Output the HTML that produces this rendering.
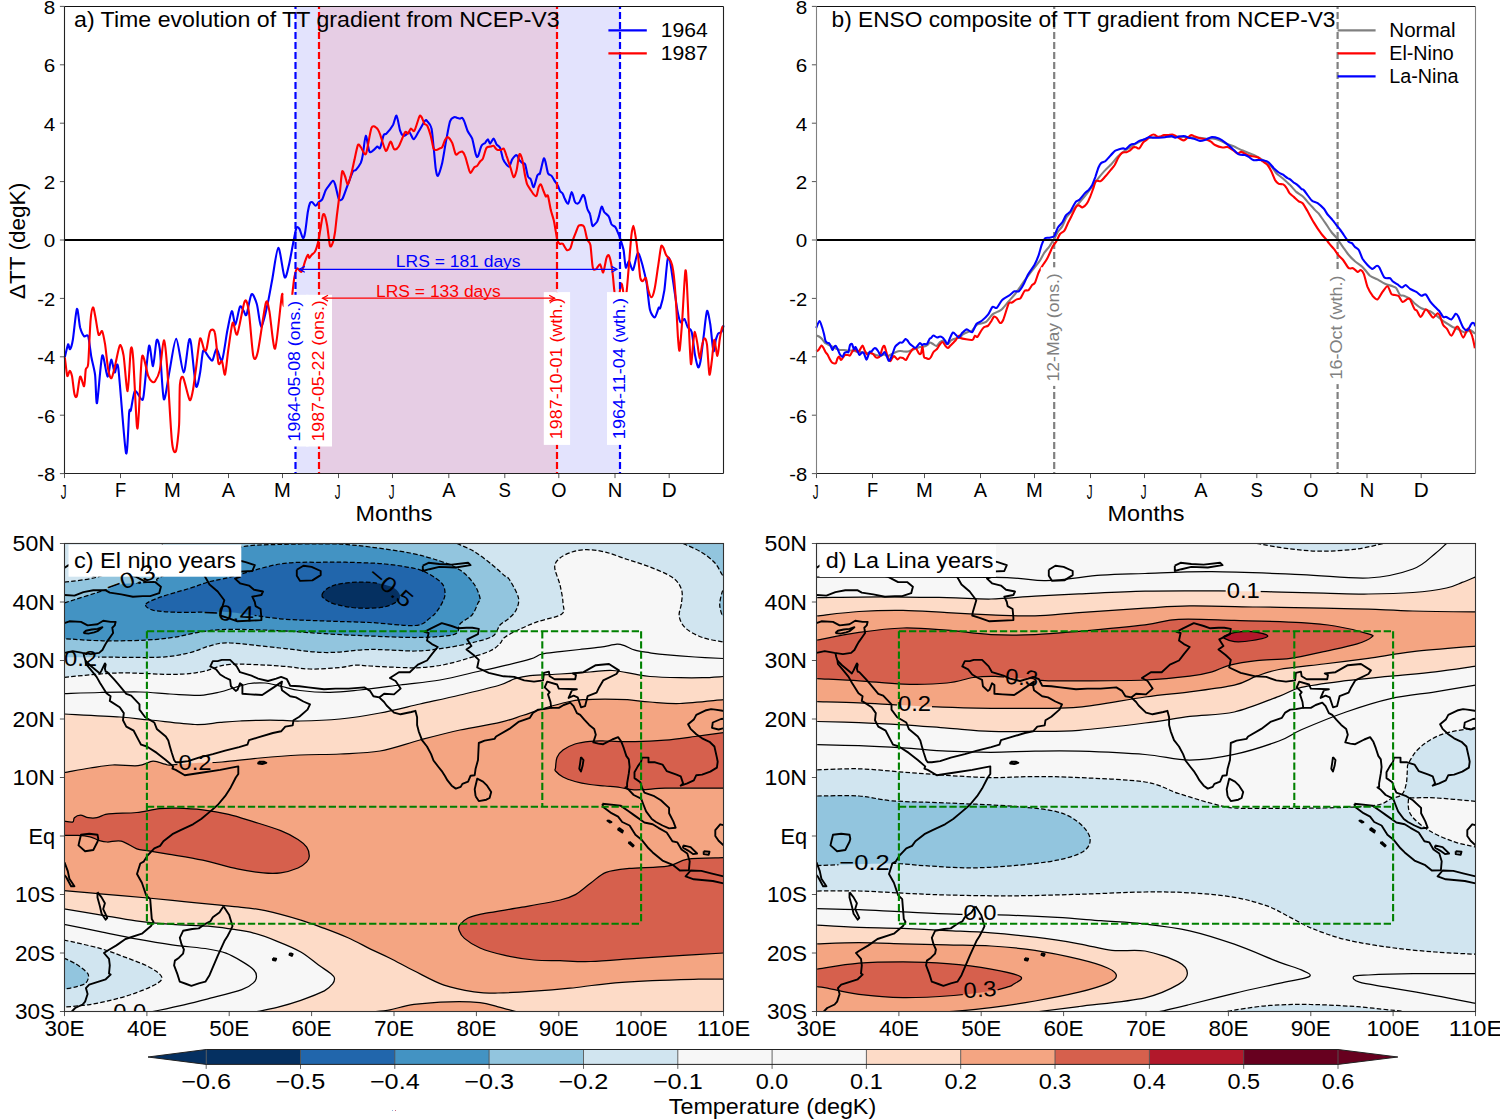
<!DOCTYPE html><html><head><meta charset="utf-8"><style>html,body{margin:0;padding:0;background:#fff;overflow:hidden}svg{display:block}text{font-family:"Liberation Sans",sans-serif}</style></head><body>
<svg width="1500" height="1119" viewBox="0 0 1500 1119">
<rect width="1500" height="1119" fill="#fff"/>
<rect x="295.5" y="6.5" width="324.5" height="467" fill="#e3e3fd"/>
<rect x="319" y="6.5" width="238" height="467" fill="#e6cde4"/>
<path d="M64.8,357.3C65.3,355.5 67.4,345.5 68,344.4C68.7,343.3 69.3,349.8 70,349.2C70.6,348.6 72,344.9 72.9,339.5C73.8,334.2 75.9,310.6 76.9,309C77.9,307.4 79.2,323.8 80.1,327.5C81.1,331.1 83.1,335.2 84.1,336.3C85.2,337.5 87.2,333.5 88.2,336.3C89.1,339.1 90.5,352.1 91.4,357.3C92.3,362.4 94.3,368.8 95.1,375C95.8,381.1 96.1,405.7 97,403.1C98,400.5 100.8,359.2 102.2,355.6C103.6,352.1 106.3,376 107.5,376.6C108.7,377.1 110.2,360.2 111.2,359.7C112.1,359.1 113.8,371.4 114.7,372.5C115.7,373.7 116.8,357.5 118.3,368.2C119.8,378.9 124.5,447.2 126,453C127.4,458.9 128.6,417.7 129.2,412C129.8,406.3 130.1,413.2 130.8,410.4C131.6,407.6 133.4,392.6 134.8,391.1C136.2,389.5 140.1,398.6 141.3,399.1C142.5,399.6 142.7,402.2 143.7,395.1C144.7,388 147.8,349.8 149,346C150.2,342.1 152,366.9 153,366.1C154,365.4 155.7,342.6 156.6,340.4C157.5,338.1 158.8,341.4 159.8,349.2C160.8,357 162.5,396.1 163.8,399.1C165.1,402.1 167.8,379.8 169.4,371.7C171.1,363.7 174.3,338.6 176.2,338.7C178.1,338.9 181.9,372.2 183.6,372.5C185.3,372.9 187.7,344.9 188.8,341.2C189.8,337.4 190.2,338.4 191.2,344.4C192.1,350.4 194.8,382.4 196,386.2C197.2,390.1 199.1,378.1 200,373.3C201,368.6 202.1,353 203.2,350.8C204.4,348.7 207.6,356 208.9,357.3C210.1,358.5 211.5,361.5 212.5,360.3C213.5,359.2 215.4,348.7 216.6,348.7C217.9,348.7 220.6,362.7 222,360.3C223.4,358 226,337.4 227.3,330.8C228.7,324.3 230.7,312 231.8,311.2C232.9,310.3 234.3,325.2 235.4,324.6C236.5,324 238.8,308.6 239.9,306.7C240.9,304.8 242.6,309.2 243.4,310.3C244.3,311.4 245.4,316.9 246.5,314.8C247.6,312.6 250.1,295.6 251.5,294.2C252.9,292.8 255.5,299.6 256.8,304C258.2,308.4 259.9,327.3 261.3,327.3C262.7,327.3 266.1,310.2 267.6,304C269,297.8 270.6,288.3 272,280.8C273.5,273.3 276.6,248.2 278.3,247.7C280,247.2 283.1,274.9 284.6,277.2C286,279.5 287.8,269.5 289,264.7C290.2,259.8 292.6,245.7 293.6,240.8C294.6,236 295.7,229.6 296.4,228C297.2,226.4 298.4,227.4 299.3,228.7C300.2,230 302.1,237.4 302.9,238C303.6,238.6 304.4,236.5 305,233C305.7,229.5 307.2,215.5 307.9,211.5C308.6,207.5 309.5,204.2 310,203C310.6,201.7 311.4,201.9 312.2,202.2C312.9,202.6 314.9,205.8 315.7,205.8C316.6,205.8 317.8,203.1 318.6,202.2C319.5,201.4 321.2,201 322.2,199.4C323.1,197.8 324.8,192 325.8,190.1C326.7,188.2 328.4,186.3 329.3,185.1C330.3,183.8 332.1,180.9 332.9,180.8C333.7,180.7 334.3,182 335.1,184.4C335.8,186.7 337.9,196.6 338.6,198.7C339.4,200.8 340.2,200.2 340.8,200.1C341.3,200 342,200 342.9,198C343.9,195.9 346.6,187.9 347.9,184.4C349.3,180.8 351.9,173.4 352.9,171.5C354,169.6 354.7,171.2 355.8,170.1C356.8,168.9 359.8,165 360.8,162.9C361.7,160.8 362.3,158 362.9,154.3C363.6,150.7 364.9,136.1 365.8,135.7C366.7,135.4 368.3,149.6 369.4,151.5C370.4,153.4 372.6,150.7 373.7,150C374.7,149.4 376.4,146.8 377.2,146.5C378.1,146.2 379.2,149.4 380.1,147.9C381,146.4 382.8,136.9 383.7,135C384.5,133.1 385.3,134.9 386.5,133.6C387.8,132.3 391.6,127.4 393,125C394.3,122.6 395.6,115 396.5,115.7C397.5,116.5 399.3,128.1 400.1,130.7C401,133.4 402.2,135.2 403,135.7C403.7,136.3 405,135.5 405.8,135C406.7,134.6 408.4,131.6 409.4,132.2C410.5,132.7 412.5,139.4 413.7,139.3C414.9,139.2 417.2,133.9 418.7,131.5C420.2,129 424,122.1 425.1,120.7C426.3,119.4 426.4,120.5 427.3,121.4C428.1,122.4 430.6,124.5 431.4,127.9C432.3,131.3 433,141.8 433.6,147.2C434.2,152.6 435.2,164.8 435.7,168.6C436.3,172.4 437,176.5 437.9,175.8C438.7,175 441.1,167.3 442.2,162.9C443.2,158.5 444.7,148.4 445.7,142.9C446.8,137.4 448.9,124.9 450,121.4C451.2,118 453.4,117.6 454.3,117.2C455.3,116.7 456.4,117.7 457.2,117.9C457.9,118.1 459.4,118.6 460,118.6C460.7,118.6 461.6,117.5 462.2,117.9C462.8,118.3 463.6,119.6 464.3,121.4C465.1,123.3 466.8,129.2 467.9,131.5C468.9,133.7 471.1,135.6 472.2,138.6C473.2,141.7 475,152 475.8,154.3C476.5,156.7 477.1,157.6 477.9,156.5C478.7,155.3 480.5,147.6 481.5,145.8C482.4,143.9 484.2,143.8 485.1,142.9C485.9,142 487.2,139.2 487.9,139.3C488.6,139.4 489.3,143.7 490.1,143.6C490.8,143.5 492.8,138.5 493.6,138.6C494.5,138.7 495.6,143.1 496.5,144.3C497.4,145.6 499.2,146 500.1,147.9C500.9,149.8 502.2,156.5 502.9,158.6C503.7,160.7 504.9,162.6 505.8,163.6C506.6,164.7 508.5,167.1 509.4,166.5C510.2,165.9 511.3,160.9 512.2,159.3C513.2,157.8 515.6,155 516.5,155.1C517.5,155.1 518.6,159 519.4,160.1C520.1,161.1 521.5,162.3 522.2,162.9C523,163.5 524.3,162.5 525.1,164.3C525.9,166.2 527.2,174.5 528,176.5C528.7,178.5 530.1,177.9 530.8,179.4C531.6,180.8 532.8,187.7 533.7,187.2C534.5,186.7 536.5,177.6 537.2,175.8C538,174 539,174 539.4,173.6C539.8,173.3 539.4,175.2 540,173.2C540.6,171.3 542.9,160.5 543.6,158.9C544.3,157.4 544.8,159.7 545.4,161.6C546,163.5 547.2,171.3 548,173.2C548.9,175.1 550.8,175 551.6,175.9C552.5,176.9 553.5,179.1 554.3,180.4C555.1,181.7 557.1,184.3 557.9,185.7C558.6,187.2 559.5,190 560.1,191.1C560.8,192.2 562.2,192.8 562.8,193.8C563.4,194.7 563.9,196.9 564.6,198.3C565.3,199.6 567.2,204.5 568.2,203.6C569.1,202.8 570.8,192.2 571.7,192C572.6,191.8 574.1,200.3 574.9,201.8C575.6,203.4 576.9,203.6 577.5,203.6C578.1,203.7 578.6,203.4 579.3,202.3C580,201.1 582.2,195.8 582.9,195.1C583.6,194.5 584.1,195.5 584.7,197.4C585.3,199.2 586.6,206.7 587.4,209C588.1,211.2 589.4,212.1 590,214.3C590.7,216.5 591.7,224.1 592.3,225.5C592.8,226.9 593.4,225.6 594.1,225.1C594.7,224.5 596.5,222.7 597.2,221.5C597.8,220.3 598.4,218.1 599,216.1C599.6,214.2 600.9,207.3 601.7,206.7C602.4,206.2 603.4,210.8 604.3,212.1C605.3,213.4 607.9,215 608.8,216.6C609.8,218.2 610.6,222.7 611.5,224.2C612.4,225.6 614.7,226.2 615.5,227.3C616.3,228.4 617.1,230.6 617.7,232.2C618.4,233.8 619.7,237 620.4,239.4C621.2,241.7 622.8,246.2 623.6,250C624.3,253.8 625,266.1 625.8,267.5C626.5,269 628,260.8 629,261.1C629.9,261.4 631.8,271 633,270C634.2,268.9 636.5,253.6 637.8,253.1C639.1,252.5 641.5,261.9 642.7,265.9C643.8,270 645.7,277.8 646.7,283.6C647.6,289.4 648.8,304.9 649.9,309.4C651,313.9 653.5,317.6 654.7,317.4C655.9,317.2 658,309 658.7,307.8C659.5,306.5 659.6,310.1 660.3,307.8C661.1,305.4 663.4,296.5 664.4,290.1C665.3,283.6 666.8,263.4 667.6,259.5C668.3,255.6 669.2,258.1 670,261.1C670.7,264.1 672.2,275.6 673.2,282C674.2,288.5 676.3,304 677.2,309.4C678.2,314.7 679.5,320.9 680.4,322.2C681.4,323.5 683.5,318.4 684.5,319C685.4,319.7 686.7,325.3 687.7,327.1C688.7,328.8 690.7,328.2 691.7,331.9C692.7,335.5 694.1,349.7 694.9,354.4C695.8,359.1 697.4,366.4 698.1,367.3C698.9,368.1 699.8,365.1 700.6,360.8C701.3,356.5 702.9,341.7 703.8,335.1C704.6,328.5 706.1,312.5 707,311C707.8,309.5 709.3,318.5 710.2,323.8C711.1,329.2 712.7,349 713.4,351.2C714.2,353.3 715.2,342.3 715.8,339.9C716.5,337.6 717.5,334.6 718.2,333.5C719,332.4 720.8,333 721.5,331.9C722.2,330.8 723.3,326.3 723.6,325.4" fill="none" stroke="#0000ff" stroke-width="2.1" stroke-linejoin="round"/>
<path d="M64.8,357.3C65.2,359.7 66.6,373.9 67.2,375.8C67.9,377.6 69,370.8 69.7,370.9C70.3,371 71.4,373.5 72.1,376.6C72.7,379.7 73.8,391.7 74.5,394.3C75.1,396.8 76.1,398.2 76.9,395.9C77.7,393.5 79.2,377.9 80.1,376.6C81.1,375.3 83.4,387.2 84.1,386.2C84.9,385.3 85.2,372.3 85.8,369.3C86.3,366.3 87.5,370.2 88.2,363.7C88.8,357.1 89.9,327.7 90.6,320.2C91.2,312.7 92.3,307.8 93,307.4C93.6,306.9 94.7,313.4 95.4,317C96.2,320.7 97.7,332.8 98.6,334.7C99.5,336.6 101.3,329.9 102.2,331.2C103,332.5 104.2,339.2 105.1,344.4C105.9,349.6 107.4,365.6 108.3,370.1C109.1,374.6 110.5,379 111.5,378.2C112.5,377.3 114.4,368.1 115.5,363.7C116.6,359.3 118.8,346.3 119.9,345.2C120.9,344.1 122.5,349.5 123.6,355.6C124.6,361.8 126.6,391.9 127.6,391.1C128.6,390.2 130.1,353.5 130.8,349.2C131.6,344.9 132.4,348.6 133.2,358.9C134,369.2 136.2,419.4 136.9,426.5C137.7,433.5 138.2,421.3 138.9,412C139.5,402.6 140.8,361.3 142.1,356.4C143.3,351.6 146.9,372.4 148.2,375.8C149.5,379.1 150.8,380.6 151.7,381.4C152.6,382.1 153.9,382.9 155,381.4C156,379.9 158.6,375.6 159.8,370.1C161,364.7 162.8,341 163.8,340.4C164.8,339.7 166,351.9 167,365.3C168.1,378.7 170.7,429.5 171.9,440.9C173,452.4 174.9,453.6 175.9,451.4C176.8,449.3 178.6,433.8 179.1,424.8C179.6,415.9 179.4,390.9 179.9,384.6C180.4,378.3 181.8,375.3 183.1,377.4C184.4,379.4 188.3,398.1 189.6,399.9C190.8,401.7 191.9,395.2 192.8,391.1C193.6,386.9 195,375.5 196,368.5C197,361.5 198.9,341.3 200,338.7C201.1,336.2 203.2,347.8 204,349.2C204.9,350.6 205.7,351.6 206.5,349.2C207.3,346.8 208.9,333.7 210,331.5C211.1,329.3 213.7,328.4 214.8,332.6C216,336.8 217.5,359.2 218.4,363C219.4,366.8 221.1,359.7 222,361.2C222.9,362.8 224.2,376.1 225,374.6C225.9,373.2 227.2,357.4 228.2,350.5C229.3,343.6 231.5,324.9 232.7,322.8C233.9,320.7 235.6,337.3 237.2,334.4C238.8,331.6 243.1,304.4 244.7,301.3C246.2,298.2 247.7,303.9 248.8,311.2C249.9,318.5 252.1,350.4 253.3,355.9C254.5,361.4 256.1,359.3 257.7,352.3C259.4,345.3 264.2,308.6 265.8,303.1C267.3,297.7 268.1,305.1 269.4,311.2C270.6,317.3 273.4,350.9 275.1,348.7C276.8,346.6 280.7,300.8 281.9,295.1C283,289.4 282.5,304.4 283.7,305.8C284.9,307.2 289.6,307.7 290.8,305.8C292,303.9 292.1,295.3 292.6,291.5C293.1,287.7 293.8,280.3 294.4,277.2C295,274.1 296.1,269 297.1,268.3C298,267.6 300.5,272.8 301.5,271.8C302.6,270.9 304.3,263.4 305.1,261.1C306,258.9 307.2,255.3 307.8,254.9C308.4,254.4 308.8,258 309.3,258C309.8,258 310.7,256 311.5,255.1C312.2,254.3 314.2,253.2 315,251.6C315.9,250 317.2,245.7 317.9,243C318.6,240.3 319.4,235.3 320,231.6C320.7,227.8 322.2,217.2 322.9,215.1C323.6,213 324.5,214.4 325,215.8C325.6,217.3 326.5,221.8 327.2,225.8C327.9,229.8 329.3,243.7 330,245.9C330.8,248 332.2,244.2 332.9,242.3C333.6,240.4 334.5,235.5 335.1,231.6C335.6,227.6 336.5,218.5 337.2,213C337.9,207.4 339.4,195.6 340.1,190.1C340.7,184.6 341.5,173.3 342.2,171.5C342.9,169.7 344.3,174.8 345.1,176.5C345.8,178.2 347.1,184.8 347.9,184.4C348.8,183.9 350.6,176.2 351.5,172.9C352.4,169.7 353.5,163.8 354.4,160.1C355.2,156.3 357.1,146.8 357.9,145C358.8,143.3 359.9,146 360.8,147.2C361.6,148.3 363.6,153 364.4,153.6C365.1,154.3 365.6,155.6 366.5,152.2C367.5,148.8 370.2,131.1 371.5,127.9C372.9,124.6 375.4,127 376.5,127.9C377.7,128.7 378.9,131.3 380.1,134.3C381.3,137.4 384.5,149.7 385.8,150.8C387.1,151.8 389.3,143.2 390.1,142.2C390.9,141.1 391,141.9 391.5,142.9C392.1,143.9 393.4,148.9 394.4,149.3C395.3,149.8 397.3,148.8 398.7,146.5C400.1,144.2 403.9,133.9 405.1,132.2C406.4,130.5 407.2,134.1 408,133.6C408.7,133.1 410,129 410.8,128.6C411.7,128.2 413.3,132.4 414.4,130.7C415.6,129.1 418.5,118.3 419.4,116.4C420.4,114.6 420.9,116.2 421.6,117.2C422.2,118.1 423.7,122.4 424.4,123.6C425.2,124.7 426.4,124.1 427.3,125.7C428.1,127.4 429.9,132.7 430.7,135.7C431.6,138.8 432.8,146.7 433.6,148.6C434.3,150.5 435.7,150 436.4,150C437.2,150 438.5,149 439.3,148.6C440.1,148.2 441.4,148.3 442.2,147.2C442.9,146 444.3,141.4 445,140C445.8,138.7 446.9,136.8 447.9,137.2C448.8,137.6 451.1,140.6 452.2,142.9C453.2,145.2 454.9,153 455.7,154.3C456.6,155.7 457.7,153.3 458.6,152.9C459.5,152.5 461.3,151.1 462.2,151.5C463,151.9 464.3,153.9 465,155.8C465.8,157.7 467.2,163.5 467.9,165.8C468.6,168.1 469.6,172.7 470.5,172.9C471.3,173.1 473.4,168.2 474.3,167.2C475.2,166.3 476.4,166.5 477.2,165.8C478,165 479.3,162.4 480.1,161.5C480.8,160.5 482.1,160.4 482.9,158.6C483.8,156.8 485.4,149.5 486.5,147.9C487.5,146.3 489.8,146.8 490.8,146.5C491.7,146.2 492.9,145.4 493.6,145.8C494.4,146.1 495.5,148.8 496.5,149.3C497.4,149.9 499.8,150.1 500.8,150C501.7,150 502.9,147.9 503.6,148.6C504.4,149.4 505.6,153.1 506.5,155.8C507.5,158.4 509.8,165.8 510.8,168.6C511.7,171.5 512.9,176.9 513.7,177.2C514.4,177.5 515.8,173.8 516.5,170.8C517.3,167.7 518.6,155.9 519.4,154.3C520.1,152.8 521.5,156.5 522.2,159.3C523,162.2 524.4,172.4 525.1,175.8C525.8,179.1 526.5,182.5 527.2,184.4C528,186.3 530,188.8 530.8,190.1C531.7,191.4 532.9,193.6 533.7,194.4C534.4,195.1 535.9,196.8 536.5,195.8C537.2,194.9 538.1,188.8 538.7,187.2C539.3,185.7 540.2,183.8 540.8,184.4C541.5,184.9 543,189.9 543.7,191.5C544.4,193.1 545.3,195.9 545.8,196.5C546.4,197.1 547.3,194 548,195.8C548.6,197.6 550.1,206.9 550.8,210.1C551.6,213.3 553,217.3 553.7,220.1C554.4,223 555.3,228.9 555.8,231.6C556.3,234.2 556.9,238.6 557.4,240.3C557.9,241.9 558.9,243.4 559.7,243.8C560.4,244.3 561.8,243 562.8,243.8C563.7,244.7 565.8,249.4 566.8,250C567.8,250.6 569.6,249.7 570.4,248.3C571.2,246.9 572.2,241.7 573.1,239.4C573.9,237 575.9,232.3 576.6,230.4C577.4,228.6 577.9,226 578.9,225.5C579.8,225 582.8,224.7 583.9,226.5C585.1,228.4 586.3,236.9 587.2,239.4C588,241.9 589.6,241.3 590.4,245C591.1,248.8 592,264.3 592.8,267.5C593.5,270.8 595,269.6 596,269.2C597,268.7 599.1,263.9 600,264.3C601,264.8 602.4,273.2 603.2,272.4C604.1,271.5 605.7,260.2 606.5,257.9C607.2,255.6 608.2,254.6 608.9,255.5C609.5,256.3 610.8,261.7 611.3,264.3C611.8,267 612.5,271.9 612.9,275.6C613.3,279.2 613.9,288 614.5,291.7C615.2,295.3 616.9,303.9 617.7,302.9C618.6,302 620.3,286.6 620.9,284.4C621.6,282.3 622.1,284.8 622.5,286.8C623,288.9 623.9,299.1 624.5,299.7C625,300.4 626,296.4 626.6,291.7C627.2,287 628.3,271.8 629,264.3C629.6,256.8 630.8,240.5 631.4,235.4C632,230.2 632.8,225.7 633.3,225.7C633.9,225.7 634.8,231.7 635.4,235.4C636,239 637.2,247.5 637.8,253.1C638.5,258.7 639.6,273.4 640.2,277.2C640.9,281 641.9,281.1 642.7,281.2C643.4,281.3 645.1,276.8 645.9,278C646.6,279.2 647.5,287.5 648.3,290.1C649,292.6 650.6,297.5 651.5,297.3C652.4,297.1 653.9,292.4 654.7,288.5C655.6,284.5 657.1,273.1 657.9,267.5C658.8,262 660.4,249.2 661.1,246.6C661.9,244.1 662.9,247.2 663.6,248.2C664.2,249.3 665,253 666,254.7C666.9,256.4 669.8,259 670.8,261.1C671.8,263.3 672.6,266 673.2,270.8C673.9,275.5 675,287.5 675.6,296.5C676.3,305.5 677.5,331.1 678,338.3C678.6,345.5 679.1,352.5 679.6,350.4C680.2,348.2 681.3,332.7 682.1,322.2C682.8,311.7 684.6,276.7 685.3,271.6C685.9,266.4 686.5,277.3 686.9,283.6C687.3,290 688,308.3 688.5,319C689,329.7 690.3,361 690.9,364C691.5,367.1 692.8,345.8 693.3,341.5C693.9,337.2 694.4,331.7 694.9,331.9C695.5,332.1 696.7,339.6 697.3,343.1C698,346.7 699.1,358.2 699.7,358.4C700.4,358.6 701.5,347.4 702.2,344.7C702.8,342.1 703.9,338.3 704.6,338.3C705.2,338.3 706.3,339.9 707,344.7C707.6,349.6 708.8,372.4 709.4,374.5C710,376.6 711.2,365.4 711.8,360.8C712.5,356.2 713.5,340.6 714.2,339.9C715,339.3 716.7,356.2 717.4,356C718.2,355.8 719.2,342.2 719.9,338.3C720.5,334.5 721.8,328.5 722.3,327.1C722.8,325.7 723.4,327.8 723.6,327.9" fill="none" stroke="#ff0000" stroke-width="2.1" stroke-linejoin="round"/>
<line x1="64.5" y1="240" x2="723.5" y2="240" stroke="#000" stroke-width="2.2"/>
<line x1="295.5" y1="6.5" x2="295.5" y2="473.5" stroke="#0000ff" stroke-width="2.2" stroke-dasharray="7 3" stroke-dashoffset="4.4"/>
<line x1="319" y1="6.5" x2="319" y2="473.5" stroke="#ff0000" stroke-width="2.2" stroke-dasharray="7 3" stroke-dashoffset="4.4"/>
<line x1="557" y1="6.5" x2="557" y2="473.5" stroke="#ff0000" stroke-width="2.2" stroke-dasharray="7 3" stroke-dashoffset="4.4"/>
<line x1="620" y1="6.5" x2="620" y2="473.5" stroke="#0000ff" stroke-width="2.2" stroke-dasharray="7 3" stroke-dashoffset="4.4"/>
<text x="395.8" y="267.2" font-size="16.64" text-anchor="start" fill="#0000ff" textLength="124.8" lengthAdjust="spacingAndGlyphs">LRS = 181 days</text>
<text x="376" y="296.6" font-size="16.64" text-anchor="start" fill="#ff0000" textLength="124.8" lengthAdjust="spacingAndGlyphs">LRS = 133 days</text>
<rect x="283.5" y="294.8" width="25" height="151.7" fill="#fff"/>
<rect x="306" y="294.8" width="26" height="151.7" fill="#fff"/>
<rect x="543.8" y="292.1" width="26.3" height="152.8" fill="#fff"/>
<rect x="607" y="292.1" width="26" height="152.8" fill="#fff"/>
<text x="300.3" y="371.2" font-size="16.55" text-anchor="middle" fill="#0000ff" textLength="140.5" lengthAdjust="spacingAndGlyphs" transform="rotate(-90 300.3 371.2)">1964-05-08 (ons.)</text>
<text x="323.9" y="370.9" font-size="16.65" text-anchor="middle" fill="#ff0000" textLength="141.3" lengthAdjust="spacingAndGlyphs" transform="rotate(-90 323.9 370.9)">1987-05-22 (ons.)</text>
<text x="562" y="368.5" font-size="16.51" text-anchor="middle" fill="#ff0000" textLength="141.3" lengthAdjust="spacingAndGlyphs" transform="rotate(-90 562 368.5)">1987-10-01 (wth.)</text>
<text x="625" y="368.5" font-size="16.51" text-anchor="middle" fill="#0000ff" textLength="141.3" lengthAdjust="spacingAndGlyphs" transform="rotate(-90 625 368.5)">1964-11-04 (wth.)</text>
<line x1="299.4" y1="269.3" x2="617.0" y2="269.3" stroke="#0000ff" stroke-width="1.25"/>
<polyline points="304.8,266.4 299.4,269.3 304.8,272.2" fill="none" stroke="#0000ff" stroke-width="1.25"/>
<polyline points="611.6,266.4 617.0,269.3 611.6,272.2" fill="none" stroke="#0000ff" stroke-width="1.25"/>
<line x1="322.6" y1="298.2" x2="554.6" y2="298.2" stroke="#ff0000" stroke-width="1.25"/>
<polyline points="328,295.3 322.6,298.2 328,301.1" fill="none" stroke="#ff0000" stroke-width="1.25"/>
<polyline points="549.2,295.3 554.6,298.2 549.2,301.1" fill="none" stroke="#ff0000" stroke-width="1.25"/>
<line x1="608.4" y1="30.4" x2="646.8" y2="30.4" stroke="#0000ff" stroke-width="2.1"/>
<line x1="608.4" y1="53.4" x2="646.8" y2="53.4" stroke="#ff0000" stroke-width="2.1"/>
<text x="660.8" y="37" font-size="19.61" text-anchor="start" fill="#000" textLength="47.1" lengthAdjust="spacingAndGlyphs">1964</text>
<text x="660.8" y="59.8" font-size="19.61" text-anchor="start" fill="#000" textLength="47.1" lengthAdjust="spacingAndGlyphs">1987</text>
<line x1="59.9" y1="473.6" x2="64.5" y2="473.6" stroke="#555" stroke-width="1"/>
<text x="55.2" y="481" font-size="19.08" text-anchor="end" fill="#000" textLength="17.9" lengthAdjust="spacingAndGlyphs">-8</text>
<line x1="59.9" y1="415.2" x2="64.5" y2="415.2" stroke="#555" stroke-width="1"/>
<text x="55.2" y="422.6" font-size="19.08" text-anchor="end" fill="#000" textLength="17.9" lengthAdjust="spacingAndGlyphs">-6</text>
<line x1="59.9" y1="356.8" x2="64.5" y2="356.8" stroke="#555" stroke-width="1"/>
<text x="55.2" y="364.2" font-size="19.08" text-anchor="end" fill="#000" textLength="17.9" lengthAdjust="spacingAndGlyphs">-4</text>
<line x1="59.9" y1="298.4" x2="64.5" y2="298.4" stroke="#555" stroke-width="1"/>
<text x="55.2" y="305.8" font-size="19.08" text-anchor="end" fill="#000" textLength="17.9" lengthAdjust="spacingAndGlyphs">-2</text>
<line x1="59.9" y1="240" x2="64.5" y2="240" stroke="#555" stroke-width="1"/>
<text x="55.2" y="247.4" font-size="19.08" text-anchor="end" fill="#000" textLength="11.5" lengthAdjust="spacingAndGlyphs">0</text>
<line x1="59.9" y1="181.6" x2="64.5" y2="181.6" stroke="#555" stroke-width="1"/>
<text x="55.2" y="189" font-size="19.08" text-anchor="end" fill="#000" textLength="11.5" lengthAdjust="spacingAndGlyphs">2</text>
<line x1="59.9" y1="123.2" x2="64.5" y2="123.2" stroke="#555" stroke-width="1"/>
<text x="55.2" y="130.6" font-size="19.08" text-anchor="end" fill="#000" textLength="11.5" lengthAdjust="spacingAndGlyphs">4</text>
<line x1="59.9" y1="64.8" x2="64.5" y2="64.8" stroke="#555" stroke-width="1"/>
<text x="55.2" y="72.2" font-size="19.08" text-anchor="end" fill="#000" textLength="11.5" lengthAdjust="spacingAndGlyphs">6</text>
<line x1="59.9" y1="6.4" x2="64.5" y2="6.4" stroke="#555" stroke-width="1"/>
<text x="55.2" y="13.8" font-size="19.08" text-anchor="end" fill="#000" textLength="11.5" lengthAdjust="spacingAndGlyphs">8</text>
<line x1="64.5" y1="473.5" x2="64.5" y2="478.1" stroke="#555" stroke-width="1"/>
<text x="63.7" y="499.3" font-size="20.67" text-anchor="middle" fill="#000" textLength="5.8" lengthAdjust="spacingAndGlyphs">J</text>
<line x1="120.5" y1="473.5" x2="120.5" y2="478.1" stroke="#555" stroke-width="1"/>
<text x="120.5" y="497.1" font-size="20.67" text-anchor="middle" fill="#000" textLength="11.2" lengthAdjust="spacingAndGlyphs">F</text>
<line x1="172.5" y1="473.5" x2="172.5" y2="478.1" stroke="#555" stroke-width="1"/>
<text x="172.5" y="497.1" font-size="20.67" text-anchor="middle" fill="#000" textLength="16.8" lengthAdjust="spacingAndGlyphs">M</text>
<line x1="228.5" y1="473.5" x2="228.5" y2="478.1" stroke="#555" stroke-width="1"/>
<text x="228.5" y="497.1" font-size="20.67" text-anchor="middle" fill="#000" textLength="13.3" lengthAdjust="spacingAndGlyphs">A</text>
<line x1="282.5" y1="473.5" x2="282.5" y2="478.1" stroke="#555" stroke-width="1"/>
<text x="282.5" y="497.1" font-size="20.67" text-anchor="middle" fill="#000" textLength="16.8" lengthAdjust="spacingAndGlyphs">M</text>
<line x1="338.5" y1="473.5" x2="338.5" y2="478.1" stroke="#555" stroke-width="1"/>
<text x="337.7" y="499.3" font-size="20.67" text-anchor="middle" fill="#000" textLength="5.8" lengthAdjust="spacingAndGlyphs">J</text>
<line x1="392.5" y1="473.5" x2="392.5" y2="478.1" stroke="#555" stroke-width="1"/>
<text x="391.7" y="499.3" font-size="20.67" text-anchor="middle" fill="#000" textLength="5.8" lengthAdjust="spacingAndGlyphs">J</text>
<line x1="448.8" y1="473.5" x2="448.8" y2="478.1" stroke="#555" stroke-width="1"/>
<text x="448.8" y="497.1" font-size="20.67" text-anchor="middle" fill="#000" textLength="13.3" lengthAdjust="spacingAndGlyphs">A</text>
<line x1="504.8" y1="473.5" x2="504.8" y2="478.1" stroke="#555" stroke-width="1"/>
<text x="504.8" y="497.1" font-size="20.67" text-anchor="middle" fill="#000" textLength="12.4" lengthAdjust="spacingAndGlyphs">S</text>
<line x1="558.8" y1="473.5" x2="558.8" y2="478.1" stroke="#555" stroke-width="1"/>
<text x="558.8" y="497.1" font-size="20.67" text-anchor="middle" fill="#000" textLength="15.3" lengthAdjust="spacingAndGlyphs">O</text>
<line x1="615" y1="473.5" x2="615" y2="478.1" stroke="#555" stroke-width="1"/>
<text x="615" y="497.1" font-size="20.67" text-anchor="middle" fill="#000" textLength="14.6" lengthAdjust="spacingAndGlyphs">N</text>
<line x1="669.2" y1="473.5" x2="669.2" y2="478.1" stroke="#555" stroke-width="1"/>
<text x="669.2" y="497.1" font-size="20.67" text-anchor="middle" fill="#000" textLength="15" lengthAdjust="spacingAndGlyphs">D</text>
<line x1="64.5" y1="6.5" x2="723.5" y2="6.5" stroke="#111" stroke-width="1.1"/>
<line x1="64.5" y1="473.5" x2="723.5" y2="473.5" stroke="#222" stroke-width="1.1"/>
<line x1="64.5" y1="6.5" x2="64.5" y2="473.5" stroke="#222" stroke-width="1.1"/>
<line x1="723.5" y1="6.5" x2="723.5" y2="473.5" stroke="#222" stroke-width="1.1"/>
<text x="394" y="521" font-size="22.26" text-anchor="middle" fill="#000" textLength="76.8" lengthAdjust="spacingAndGlyphs">Months</text>
<text x="74" y="27" font-size="21.94" text-anchor="start" fill="#000" textLength="485.7" lengthAdjust="spacingAndGlyphs">a) Time evolution of TT gradient from NCEP-V3</text>
<text x="25.2" y="241" font-size="22.26" text-anchor="middle" fill="#000" textLength="116.4" lengthAdjust="spacingAndGlyphs" transform="rotate(-90 25.2 241)">ΔTT (degK)</text>
<line x1="1054.2" y1="6.5" x2="1054.2" y2="473.5" stroke="#808080" stroke-width="2.2" stroke-dasharray="7 3" stroke-dashoffset="4.4"/>
<line x1="1337.6" y1="6.5" x2="1337.6" y2="473.5" stroke="#808080" stroke-width="2.2" stroke-dasharray="7 3" stroke-dashoffset="4.4"/>
<path d="M816.2,335.5C816.6,335.6 818.2,336 819,336.5C819.8,337 821.2,338.1 822,339C822.8,339.9 824.2,342.3 825,343C825.8,343.7 827.2,344.1 828,344.5C828.8,344.9 830.2,345.6 831,346C831.8,346.4 833.2,347.1 834,347.5C834.8,347.9 836.2,348.7 837,349C837.8,349.3 839.1,349.9 840,350C840.9,350.1 842.9,349.9 844,350C845.1,350.1 846.9,350.4 848,350.5C849.1,350.6 850.9,350.4 852,350.5C853.1,350.6 854.9,351.3 856,351.5C857.1,351.7 858.9,351.9 860,352C861.1,352.1 862.9,352.4 864,352.5C865.1,352.6 866.9,352.9 868,353C869.1,353.1 870.9,353.2 872,353.5C873.1,353.8 874.9,354.7 876,355C877.1,355.3 878.9,356.1 880,356C881.1,355.9 882.9,354.5 884,354.5C885.1,354.5 886.9,356.1 888,356C889.1,355.9 890.9,354.5 892,354C893.1,353.5 894.9,352.4 896,352C897.1,351.6 898.9,351.1 900,351C901.1,350.9 902.9,351.4 904,351.5C905.1,351.6 906.9,351.7 908,351.5C909.1,351.3 910.9,350.4 912,350C913.1,349.6 914.9,348.9 916,348.5C917.1,348.1 918.9,347.3 920,347C921.1,346.7 922.9,346.8 924,346.5C925.1,346.2 927.2,345 928,344.5C928.8,344 929.3,342.6 930,342.5C930.7,342.4 932.1,343.5 933,344C933.9,344.5 935.6,346.3 936.5,346C937.4,345.7 939.1,342.7 940,342C940.9,341.3 942.2,340.3 943,340.5C943.8,340.7 945.3,343 946,343.5C946.7,344 947.3,344.4 948,344C948.7,343.6 950.2,341.2 951,340.5C951.8,339.8 953.2,339.3 954,339C954.8,338.7 956.2,338.2 957,338C957.8,337.8 959.3,337.9 960,337.5C960.7,337.1 961.5,335.5 962.5,334.7C963.6,334 966.6,332.6 967.9,332.1C969.2,331.5 971,331.4 972.2,330.5C973.3,329.5 975.3,326 976.4,325.1C977.6,324.2 979.5,323.9 980.7,323.5C982,323.1 984.5,323.1 986.1,321.9C987.7,320.7 991,315.7 992.5,314.4C994.1,313 996.6,312.4 997.9,311.7C999.2,311 1000.8,310.4 1002.2,309C1003.6,307.6 1006.9,303.5 1008.6,301.5C1010.3,299.5 1013.5,296 1015.1,294C1016.6,292 1019,288.5 1020.4,286.5C1021.8,284.5 1024.2,281.1 1025.8,279C1027.4,276.8 1030.4,272.8 1032.2,270.4C1034.1,268 1038.1,263 1039.7,260.8C1041.3,258.5 1042.7,255.2 1044,253.2C1045.3,251.3 1048,248.2 1049.4,246.3C1050.7,244.3 1053.1,240.7 1054.2,238.8C1055.3,236.8 1056.9,233.4 1057.9,231.8C1059,230.2 1061.1,228.3 1062.2,226.4C1063.4,224.5 1065,219.7 1066.4,217.5C1067.8,215.4 1071.1,212 1072.9,210C1074.6,208 1077.6,204.5 1079.3,202.5C1081,200.5 1084,197.2 1085.7,195C1087.4,192.9 1090.4,188.7 1092.2,186.5C1093.9,184.2 1096.9,180 1098.6,177.9C1100.3,175.7 1103.3,172.2 1105,170.4C1106.7,168.5 1109.7,165.8 1111.5,164C1113.2,162.1 1116.2,158.2 1117.9,156.4C1119.6,154.7 1122.6,152.4 1124.3,151.1C1126,149.8 1129,147.9 1130.8,146.8C1132.5,145.7 1135.5,144 1137.2,143C1138.9,142.1 1141.9,140.5 1143.6,139.8C1145.3,139.1 1148.3,138 1150,137.7C1151.8,137.3 1154.2,137.3 1156.5,137.2C1158.8,137 1164.3,136.7 1167.2,136.6C1170.1,136.5 1175.1,136.5 1177.9,136.6C1180.8,136.7 1185.7,137 1188.6,137.2C1191.6,137.3 1197.6,137.5 1200,137.7C1202.4,137.9 1204.6,138.7 1206.3,138.8C1207.9,138.9 1210.9,138.3 1212.5,138.5C1214.2,138.7 1217.1,139.4 1218.8,140C1220.4,140.6 1223,142.3 1225,143.1C1227,144 1231.8,145.4 1233.8,146.3C1235.8,147.1 1238.2,148.6 1240,149.4C1241.9,150.2 1245.2,151.5 1247.5,152.5C1249.9,153.5 1255.1,155.6 1257.6,156.9C1260.1,158.2 1264.5,161.3 1266.3,162.5C1268.1,163.8 1270,164.9 1271.3,166.3C1272.7,167.7 1274.8,171.6 1276.3,173.2C1277.8,174.8 1280.7,176.6 1282.6,178.2C1284.4,179.8 1288.2,183.2 1290.1,185.1C1291.9,186.9 1294.7,190.4 1296.3,191.9C1298,193.4 1300.9,194.8 1302.6,196.3C1304.3,197.8 1307.2,201.4 1308.8,203.2C1310.5,205 1313.8,208.7 1315.1,210.1C1316.4,211.5 1317.5,212.2 1318.9,213.8C1320.2,215.5 1323.4,220.2 1325.1,222.6C1326.8,225 1329.7,229.8 1331.4,232C1333,234.1 1336.8,237.9 1337.6,238.8C1338.4,239.8 1336.9,238.4 1337.5,239.4C1338.2,240.4 1341,244.2 1342.5,246.3C1344,248.3 1347.1,253 1348.8,255C1350.4,257 1353.2,259.7 1355,261.3C1356.9,262.9 1360.5,265 1362.5,266.9C1364.5,268.8 1368,274 1370,275.7C1372,277.3 1375.5,278.3 1377.5,279.4C1379.5,280.5 1383,282.9 1385,283.8C1387,284.7 1391.1,285.7 1392.6,286.3C1394.1,286.9 1395.3,287 1396.3,288.2C1397.3,289.3 1399.1,294.1 1400.1,295.1C1401.1,296.1 1402.5,295.2 1403.8,295.7C1405.1,296.2 1408.6,297.7 1410.1,298.8C1411.6,299.9 1413.6,302.6 1415.1,303.8C1416.6,305.1 1419.3,307.2 1421.3,308.2C1423.3,309.2 1428.1,310.3 1430.1,311.3C1432.1,312.3 1434.7,314.4 1436.3,315.7C1438,316.9 1441.1,319.6 1442.6,320.7C1444.1,321.8 1446.3,323 1447.6,323.8C1448.9,324.7 1450.9,326.1 1452.6,327C1454.3,327.8 1458.4,329.3 1460.1,330.1C1461.8,330.8 1463.8,332.6 1465.1,332.6C1466.4,332.6 1468.8,329.9 1470.1,330.1C1471.5,330.3 1474.5,333.3 1475.1,333.8" fill="none" stroke="#808080" stroke-width="2.1" stroke-linejoin="round"/>
<path d="M816.2,351.5C816.5,351.3 817.8,350.8 818.5,350C819.2,349.2 820.8,345.8 821.5,345.5C822.2,345.2 823,347.1 823.5,348C824,348.9 825,351.1 825.5,352C826,352.9 826.9,353.5 827.5,354.5C828.1,355.5 829.4,358.4 830,359.5C830.6,360.6 831.4,362 832,362.5C832.6,363 834,363.4 834.5,363.5C835,363.6 835.6,363.7 836,363C836.4,362.3 837.1,359.4 837.5,358.5C837.9,357.6 838.5,356.3 839,356.5C839.5,356.7 840.5,359.9 841,360C841.5,360.1 842.5,358.2 843,357.5C843.5,356.8 844.3,355.3 845,355C845.7,354.7 847.3,354.9 848,355C848.7,355.1 849.5,355.9 850,355.5C850.5,355.1 851.5,352.7 852,352C852.5,351.3 853,350.3 853.5,350C854,349.7 855,349.7 855.5,350C856,350.3 857,351.9 857.5,352C858,352.1 858.8,351.4 859.5,350.5C860.2,349.6 861.8,345.6 862.5,345.5C863.2,345.4 863.9,348.8 864.5,350C865.1,351.2 866.3,354.1 867,354.5C867.7,354.9 869.2,353.1 870,353C870.8,352.9 872.2,353.4 873,354C873.8,354.6 875.3,357 876,357.5C876.7,358 877.5,357.7 878,357.5C878.5,357.3 879.4,357.3 880,356C880.6,354.7 881.9,349.3 882.5,348C883.1,346.7 883.9,345.1 884.5,346C885.1,346.9 886.3,352.5 887,354.5C887.7,356.5 889.3,360.5 890,361C890.7,361.5 891.5,359.2 892,358.5C892.5,357.8 893.3,355.9 894,356C894.7,356.1 896.7,359.3 897.5,359.5C898.3,359.7 899.3,357.7 900,357.5C900.7,357.3 902.2,357.7 903,358C903.8,358.3 905.3,360.3 906,360C906.7,359.7 907.8,356.6 908.5,355.5C909.2,354.4 910.4,352.4 911,351.5C911.6,350.6 912.3,349.4 913,349C913.7,348.6 915.2,347.9 916,348.5C916.8,349.1 918.3,352.8 919,353.5C919.7,354.2 920.5,354.4 921,353.5C921.5,352.6 922.1,346.5 922.5,347C922.9,347.5 923.5,355.5 924,357C924.5,358.5 925.3,357.7 926,358C926.7,358.3 928.3,359.1 929,359C929.7,358.9 930.4,357.9 931,357C931.6,356.1 932.7,353.1 933.5,352C934.3,350.9 936.2,349.9 937,349C937.8,348.1 938.8,345.9 939.5,345C940.2,344.1 941.7,341.9 942.5,342C943.3,342.1 944.8,345.2 945.5,346C946.2,346.8 947.4,348 948,348C948.6,348 949.4,346.6 950,346C950.6,345.4 951.8,344.2 952.5,343.5C953.2,342.8 954.8,341.3 955.5,340.5C956.2,339.7 957,338.2 957.5,337.5C958,336.8 959.1,335.4 959.5,335.5C959.9,335.6 958.7,337.4 960.4,338C962,338.6 970.2,340.3 972.2,340C974.1,339.7 974.1,336.2 974.8,335.8C975.6,335.4 976.7,337.5 977.5,336.9C978.3,336.3 979.9,332.8 980.7,331.5C981.6,330.2 983,328 984,327.2C985,326.5 987.2,326.5 988.2,325.6C989.2,324.8 990.7,322 991.5,320.8C992.2,319.6 993.4,316.9 994.1,316.5C994.9,316.2 996,317.3 996.8,318.1C997.6,319 999.2,322.7 1000,322.9C1000.9,323.2 1002.1,322.3 1003.3,319.7C1004.4,317.2 1007.5,305.9 1008.6,303.6C1009.8,301.4 1010.8,303.1 1011.8,302.6C1012.9,302 1015.5,299.9 1016.7,299.4C1017.8,298.8 1019.3,299.4 1020.4,298.3C1021.5,297.1 1023.6,291.8 1024.7,290.8C1025.8,289.7 1027.5,291 1028.5,290.2C1029.5,289.5 1031.4,285.9 1032.2,284.9C1033.1,283.9 1034,284.4 1034.9,282.7C1035.8,281.1 1037.6,274.9 1038.6,272.5C1039.7,270.2 1041.8,266.9 1042.9,265C1044.1,263.2 1045.9,261 1047.2,258.6C1048.5,256.2 1051.4,249.1 1052.6,246.8C1053.8,244.5 1055.3,243.2 1056.3,241.4C1057.3,239.7 1059,235.4 1060.1,233.9C1061.2,232.5 1063.3,232.3 1064.4,230.7C1065.5,229.1 1067.4,224.2 1068.6,221.8C1069.7,219.5 1071.9,215.3 1072.9,213.3C1073.9,211.3 1075.3,207.9 1076.1,206.8C1076.9,205.8 1077.9,205.2 1078.8,205.2C1079.6,205.3 1081.4,207.6 1082.5,207.4C1083.6,207.2 1085.8,205 1086.8,203.6C1087.8,202.3 1089.2,199.2 1090,197.2C1090.9,195.2 1092.4,190.8 1093.2,188.6C1094,186.5 1094.9,182.1 1095.9,181.1C1096.9,180.1 1099.5,181.7 1100.7,181.1C1101.9,180.5 1103.7,178.2 1105,176.8C1106.3,175.4 1109.1,172 1110.4,170.4C1111.7,168.8 1113.6,166.7 1114.7,165C1115.7,163.3 1117.4,159.2 1118.4,157.5C1119.4,155.9 1121.1,153.4 1122.2,152.7C1123.2,152 1125.5,152.4 1126.5,152.2C1127.5,151.9 1128.7,151.2 1129.7,150.6C1130.6,149.9 1132.6,147.8 1133.4,147.3C1134.3,146.9 1135.3,147.2 1136.1,147.3C1136.9,147.5 1138.4,149.1 1139.3,148.4C1140.3,147.8 1142.1,143.7 1143.1,142.5C1144.1,141.4 1145.9,140.7 1146.8,139.8C1147.8,139 1149.1,136.8 1150,136.1C1151,135.4 1152.8,134.4 1153.8,134.5C1154.8,134.5 1156.7,136.3 1157.5,136.6C1158.4,136.9 1159.4,136.8 1160.2,136.6C1161.1,136.4 1162.9,135.2 1164,135C1165.1,134.8 1167.1,135.1 1168.3,135C1169.4,134.9 1171.6,134.3 1172.6,134.5C1173.6,134.6 1174.8,135.5 1175.8,136.1C1176.8,136.7 1179,138.2 1180.1,138.8C1181.1,139.3 1182.8,140.5 1183.8,140.4C1184.8,140.2 1186.6,138.4 1187.6,137.7C1188.6,137 1190.3,135.2 1191.3,135C1192.3,134.9 1193.9,136.2 1195.1,136.6C1196.2,137 1198.5,137.9 1200,138.2C1201.5,138.6 1204.8,138.9 1206.3,139.4C1207.8,139.9 1210.1,141.1 1211.3,141.9C1212.4,142.6 1213.5,144.3 1215,145C1216.5,145.8 1220.9,147.3 1222.5,147.5C1224.2,147.8 1226,146.5 1227.5,146.9C1229,147.3 1232.5,149.8 1233.8,150.7C1235.1,151.5 1236.5,153.4 1237.5,153.5C1238.5,153.7 1240,151.7 1241.3,151.9C1242.6,152.1 1246,154.4 1247.5,155C1249,155.6 1251.1,155.9 1252.6,156.3C1254,156.6 1256.8,156.9 1258.2,157.5C1259.5,158.2 1261.3,160.3 1262.6,161.3C1263.8,162.3 1266.4,163.7 1267.6,165C1268.7,166.4 1270.3,169.3 1271.3,171.3C1272.3,173.3 1274.1,178.4 1275.1,180.1C1276.1,181.7 1277.7,183.2 1278.8,183.8C1279.9,184.4 1282.2,183.9 1283.2,184.4C1284.2,184.9 1285.5,186.4 1286.3,187.6C1287.2,188.7 1288.5,191.9 1289.5,193.2C1290.5,194.4 1292.6,195.9 1293.8,196.9C1295.1,198 1297.7,200.5 1298.8,201.3C1300,202.2 1301.4,201.9 1302.6,203.2C1303.8,204.5 1306.1,208.7 1307.6,211.3C1309.1,213.9 1312,219.6 1313.9,222.6C1315.7,225.6 1319.7,231.6 1321.4,233.8C1323,236.1 1325.4,238.2 1326.4,239.5C1327.4,240.7 1327.9,242 1328.9,243.2C1329.9,244.5 1332.6,247.2 1333.9,248.9C1335.2,250.5 1337.5,254.2 1338.8,255.6C1340,257.1 1341.8,258.4 1343.1,260C1344.5,261.7 1347.4,267.1 1348.8,268.2C1350.1,269.2 1352,267.7 1353.1,268.2C1354.3,268.7 1356.5,271.7 1357.5,271.9C1358.5,272.2 1359.8,269.8 1360.7,270C1361.5,270.3 1362.9,271.5 1363.8,273.8C1364.7,276 1366.4,284 1367.5,286.9C1368.7,289.8 1371.2,294 1372.5,295.7C1373.9,297.3 1376.2,299.9 1377.5,299.4C1378.9,298.9 1381.2,293.7 1382.5,291.9C1383.9,290.2 1386.4,286 1387.5,286.3C1388.7,286.5 1390.3,292.6 1391.3,293.8C1392.3,295 1394.1,294.7 1395.1,295.1C1396.1,295.4 1397.8,295.4 1398.8,296.3C1399.8,297.2 1401.4,301.6 1402.6,301.9C1403.7,302.3 1406.6,299.1 1407.6,298.8C1408.6,298.5 1409.1,298.1 1410.1,299.4C1411,300.8 1413.5,307.3 1414.4,308.8C1415.4,310.3 1416.1,309.6 1416.9,310.7C1417.8,311.8 1419.5,317.1 1420.7,316.9C1421.9,316.8 1424.5,309.9 1425.7,309.4C1426.9,308.9 1428.5,312.1 1429.5,313.2C1430.5,314.3 1432.1,317.6 1433.2,317.6C1434.3,317.6 1436.7,313.4 1437.6,313.2C1438.5,313 1439.3,314.7 1440.1,316.3C1440.8,317.9 1442.3,323.4 1443.2,325.1C1444.1,326.7 1445.9,327.4 1447,328.8C1448.1,330.3 1450.1,336 1451.4,335.7C1452.6,335.5 1455.4,328 1456.4,327C1457.4,326 1457.9,326.8 1458.9,328.2C1459.8,329.6 1462.1,337.5 1463.2,337.6C1464.4,337.7 1466.7,329.7 1467.6,328.8C1468.5,328 1469.4,330.2 1470.1,331.3C1470.8,332.5 1472,335.3 1472.6,337.6C1473.3,339.8 1474.6,346.8 1474.9,348.2" fill="none" stroke="#ff0000" stroke-width="2.1" stroke-linejoin="round"/>
<path d="M816.2,328C816.6,327.1 818.7,321.1 819.5,321C820.3,320.9 821.4,325.3 822,327C822.6,328.7 823.5,332.1 824,334C824.5,335.9 825,339.8 825.5,341C826,342.2 827,342.7 827.5,343C828,343.3 828.6,342.7 829,343C829.4,343.3 830,344.6 830.5,345.5C831,346.4 832,349.8 832.5,350C833,350.2 833.5,347.5 834,347C834.5,346.5 835.5,345.6 836,346C836.5,346.4 837.5,348.9 838,350C838.5,351.1 839.4,353.6 840,354.5C840.6,355.4 841.9,357.2 842.5,357C843.1,356.8 843.9,353.7 844.5,353C845.1,352.3 846.5,352.1 847,352C847.5,351.9 848.1,352.9 848.5,352C848.9,351.1 849.5,346.1 850,345C850.5,343.9 851.5,343.4 852,344C852.5,344.6 853.5,349.1 854,349.5C854.5,349.9 855,346.8 855.5,347C856,347.2 857,349.9 857.5,351C858,352.1 858.9,354.8 859.5,355C860.1,355.2 861.4,352.7 862,352.5C862.6,352.3 863.5,352.6 864,353.5C864.5,354.4 865.6,358.3 866,359C866.4,359.7 866.5,359.9 867,359C867.5,358.1 868.9,353 869.5,352C870.1,351 870.9,352 871.5,351.5C872.1,351 873.4,348.9 874,348.5C874.6,348.1 875.5,348.2 876,348.5C876.5,348.8 877.4,350.1 878,351C878.6,351.9 879.9,355 880.5,355.5C881.1,356 882,355 882.5,354.5C883,354 884,351.9 884.5,352C885,352.1 886,354.4 886.5,355.5C887,356.6 888,359.9 888.5,360.5C889,361.1 889.5,360.9 890,360C890.5,359.1 891.8,355.7 892.5,354C893.2,352.3 894.3,348.3 895,347C895.7,345.7 897.3,344.6 898,344C898.7,343.4 899.4,342.7 900,342.5C900.6,342.3 901.8,343 902.5,342.5C903.2,342 904.8,339.3 905.5,339C906.2,338.7 906.9,339.8 907.5,340.5C908.1,341.2 909.3,343.3 910,344C910.7,344.7 911.8,345.5 912.5,346C913.2,346.5 914.4,347.9 915,348C915.6,348.1 916.3,347.2 917,346.5C917.7,345.8 919.3,343.2 920,343C920.7,342.8 921.5,344.9 922,345C922.5,345.1 923.3,344.1 924,344C924.7,343.9 926.3,344.7 927,344C927.7,343.3 929,339.8 929.5,339C930,338.2 930.5,338.5 931,338C931.5,337.5 932.7,335.6 933.5,335.5C934.3,335.4 936.1,337.4 937,337.5C937.9,337.6 939.3,336.5 940,336.5C940.7,336.5 941.8,337 942.5,337.5C943.2,338 944.3,339.6 945,340.5C945.7,341.4 946.8,344.3 947.5,344C948.2,343.7 949.3,339.5 950,338C950.7,336.5 952.2,332.9 953,332.5C953.8,332.1 955.3,334.3 956,335C956.7,335.7 958,337.3 958.5,337.5C959,337.7 959.5,337.2 960,336.5C960.5,335.8 961.6,333.5 962.5,332.6C963.4,331.7 965.5,329.5 966.8,329.4C968.1,329.3 970.9,332.8 972.2,332.1C973.4,331.3 975.2,325.5 976.4,324C977.7,322.5 980.2,322.1 981.8,320.8C983.4,319.5 986.8,316.2 988.2,314.4C989.7,312.5 991.4,307.7 992.5,306.9C993.7,306 995.5,308.9 996.8,307.9C998.1,307 1000.5,301.6 1002.2,299.9C1003.9,298.2 1008,296.2 1009.7,295.1C1011.3,293.9 1013.3,291.8 1014.5,291.3C1015.7,290.8 1017.6,292.2 1018.8,291.3C1020,290.4 1022.4,286.6 1023.6,284.3C1024.8,282.1 1026.5,277.3 1027.9,274.7C1029.4,272.1 1032.9,267.6 1034.4,265C1035.8,262.5 1037.6,258.2 1038.6,255.4C1039.6,252.6 1041,246.4 1041.9,244.1C1042.7,241.8 1044.1,239.1 1045.1,238.2C1046.1,237.4 1048.2,238 1049.4,237.7C1050.6,237.4 1053.1,237.4 1054.2,236.1C1055.3,234.7 1056.8,229.4 1057.9,227.5C1059.1,225.6 1061.6,223.5 1062.7,221.8C1063.7,220.2 1064.9,216.8 1065.9,215.4C1066.9,214 1069.3,212.8 1070.2,211.7C1071.1,210.5 1072.1,208.2 1072.9,206.8C1073.6,205.5 1075.2,202.4 1076.1,201.5C1076.9,200.5 1078.2,200.9 1079.3,199.9C1080.4,198.8 1083.4,194.8 1084.7,193.4C1085.9,192.1 1087.9,190.8 1088.9,189.7C1089.9,188.5 1091.3,186.6 1092.2,184.9C1093,183.1 1094.5,179.2 1095.4,176.8C1096.2,174.5 1097.8,169 1098.6,167.2C1099.4,165.3 1100.4,163.7 1101.3,162.9C1102.1,162.1 1104.1,161.9 1105,161.3C1106,160.6 1107,159.4 1108.2,158.1C1109.5,156.7 1113.3,152.2 1114.7,151.1C1116,149.9 1117.3,149.8 1118.4,149.5C1119.6,149.1 1122.2,148.5 1123.2,148.4C1124.2,148.3 1124.9,149.4 1125.9,148.9C1126.9,148.4 1129.5,145.4 1130.8,144.7C1132,143.9 1133.9,144.1 1135,143.6C1136.2,143.1 1138,141.5 1139.3,140.9C1140.6,140.3 1143.5,139.8 1144.7,139.3C1145.9,138.8 1147.3,137.4 1148.4,137.2C1149.6,136.9 1151.9,137.6 1153.3,137.7C1154.6,137.8 1157,137.8 1158.6,137.7C1160.2,137.6 1163.3,137.4 1165.1,137.2C1166.8,136.9 1170.1,136 1171.5,136.1C1172.8,136.2 1174.2,137.6 1175.2,137.7C1176.2,137.8 1177.8,136.8 1179,136.6C1180.2,136.4 1183.1,135.9 1184.3,136.1C1185.6,136.2 1187.4,137.3 1188.6,137.7C1189.9,138 1192.5,138.3 1194,138.8C1195.5,139.2 1198.4,140.8 1200,140.9C1201.6,141 1204.7,139.9 1206.3,139.4C1207.8,138.9 1210.2,137.3 1211.9,137.1C1213.6,137 1217.4,138 1218.8,138.5C1220.2,139 1221.4,139.9 1222.5,140.6C1223.7,141.4 1226.2,143.3 1227.5,144.4C1228.9,145.5 1231,147.4 1232.5,148.8C1234,150.1 1237.1,153.6 1238.8,154.4C1240.5,155.2 1243.7,154.7 1245,155C1246.4,155.4 1247.7,156.2 1248.8,156.9C1249.9,157.6 1251.8,159.6 1253.2,160C1254.5,160.5 1257.2,159.9 1258.8,160C1260.4,160.1 1263.7,160.3 1265.1,160.7C1266.4,161 1267.6,161.5 1268.8,162.5C1270,163.5 1272.5,166.8 1273.8,168.2C1275.2,169.5 1277.7,171.7 1278.8,172.5C1280,173.4 1281.4,173.7 1282.6,174.4C1283.7,175.2 1286.6,177.5 1287.6,178.2C1288.6,178.8 1289.2,178.8 1290.1,179.4C1290.9,180 1292.8,181.8 1293.8,182.6C1294.8,183.3 1296.6,184.2 1297.6,185.1C1298.6,185.9 1300.5,188.1 1301.3,188.8C1302.2,189.5 1303,189.2 1303.8,190.1C1304.7,190.9 1306.5,193.6 1307.6,195.1C1308.7,196.5 1310.6,199.6 1312,200.7C1313.3,201.8 1316,202.1 1317.6,203.2C1319.2,204.3 1322.5,207.3 1323.9,208.8C1325.2,210.3 1326.4,213 1327.6,214.5C1328.8,216 1331.5,218.7 1332.6,220.1C1333.8,221.5 1335.4,223.8 1336.4,225.1C1337.4,226.3 1339,228.1 1340,229.5C1341,230.8 1342.6,233.3 1343.8,235C1344.9,236.7 1347.7,240.8 1348.8,241.9C1349.8,243 1351.1,242.5 1351.9,243.1C1352.7,243.8 1354.1,246 1355,246.9C1355.9,247.8 1357.8,248.4 1358.8,250C1359.8,251.6 1361.4,256.8 1362.5,258.8C1363.7,260.8 1366.3,263.7 1367.5,265C1368.8,266.4 1371.1,268.4 1371.9,268.8C1372.7,269.2 1373.1,268.6 1373.8,268.2C1374.5,267.7 1376.2,265.7 1376.9,265.7C1377.7,265.6 1378.4,265.9 1379.4,267.5C1380.4,269.1 1383,276.1 1384.4,277.5C1385.8,279 1389,277.7 1390.1,278.2C1391.1,278.7 1391.6,280.5 1392.6,281.3C1393.6,282.1 1396.3,283.6 1397.6,284.4C1398.8,285.3 1400.9,287.5 1401.9,287.5C1403,287.6 1404.6,284.9 1405.7,285C1406.8,285.2 1408.6,287.9 1410.1,288.8C1411.5,289.7 1414.8,291 1416.3,291.9C1417.8,292.8 1420.1,295.3 1421.3,295.7C1422.6,296 1424.5,293.7 1425.7,294.4C1426.9,295.2 1428.8,299.6 1430.1,301.3C1431.3,303 1433.8,305.6 1435.1,306.9C1436.3,308.3 1438.4,310 1439.5,311.3C1440.6,312.7 1442.3,316.2 1443.2,316.9C1444.1,317.7 1445.3,316.6 1446.3,316.9C1447.4,317.3 1450.1,319.9 1451.4,319.4C1452.6,319 1454.8,314.2 1455.7,313.8C1456.6,313.4 1457.2,314.5 1458.2,316.3C1459.2,318.2 1462,325.7 1463.2,327.6C1464.5,329.4 1466.5,330.6 1467.6,330.1C1468.7,329.6 1470.5,324.7 1471.4,323.8C1472.2,322.9 1473.4,322.9 1473.9,323.2C1474.4,323.5 1475,325.9 1475.1,326.3" fill="none" stroke="#0000ff" stroke-width="2.1" stroke-linejoin="round"/>
<line x1="816.5" y1="240" x2="1475.5" y2="240" stroke="#000" stroke-width="2.2"/>
<rect x="1040.8" y="267.3" width="25.7" height="118.6" fill="#fff"/>
<rect x="1324.2" y="269.6" width="25.7" height="114.5" fill="#fff"/>
<text x="1058.8" y="327.4" font-size="16.64" text-anchor="middle" fill="#808080" textLength="108.1" lengthAdjust="spacingAndGlyphs" transform="rotate(-90 1058.8 327.4)">12-May (ons.)</text>
<text x="1342.2" y="327.6" font-size="16.64" text-anchor="middle" fill="#808080" textLength="104" lengthAdjust="spacingAndGlyphs" transform="rotate(-90 1342.2 327.6)">16-Oct (wth.)</text>
<line x1="1337.6" y1="30.4" x2="1375.6" y2="30.4" stroke="#808080" stroke-width="2.1"/>
<line x1="1337.6" y1="53.4" x2="1375.6" y2="53.4" stroke="#ff0000" stroke-width="2.1"/>
<line x1="1337.6" y1="76.4" x2="1375.6" y2="76.4" stroke="#0000ff" stroke-width="2.1"/>
<text x="1389.3" y="36.7" font-size="19.29" text-anchor="start" fill="#000" textLength="66.2" lengthAdjust="spacingAndGlyphs">Normal</text>
<text x="1389.3" y="59.7" font-size="19.29" text-anchor="start" fill="#000" textLength="64.5" lengthAdjust="spacingAndGlyphs">El-Nino</text>
<text x="1389.3" y="82.8" font-size="19.29" text-anchor="start" fill="#000" textLength="69.2" lengthAdjust="spacingAndGlyphs">La-Nina</text>
<line x1="811.9" y1="473.6" x2="816.5" y2="473.6" stroke="#555" stroke-width="1"/>
<text x="807.2" y="481" font-size="19.08" text-anchor="end" fill="#000" textLength="17.9" lengthAdjust="spacingAndGlyphs">-8</text>
<line x1="811.9" y1="415.2" x2="816.5" y2="415.2" stroke="#555" stroke-width="1"/>
<text x="807.2" y="422.6" font-size="19.08" text-anchor="end" fill="#000" textLength="17.9" lengthAdjust="spacingAndGlyphs">-6</text>
<line x1="811.9" y1="356.8" x2="816.5" y2="356.8" stroke="#555" stroke-width="1"/>
<text x="807.2" y="364.2" font-size="19.08" text-anchor="end" fill="#000" textLength="17.9" lengthAdjust="spacingAndGlyphs">-4</text>
<line x1="811.9" y1="298.4" x2="816.5" y2="298.4" stroke="#555" stroke-width="1"/>
<text x="807.2" y="305.8" font-size="19.08" text-anchor="end" fill="#000" textLength="17.9" lengthAdjust="spacingAndGlyphs">-2</text>
<line x1="811.9" y1="240" x2="816.5" y2="240" stroke="#555" stroke-width="1"/>
<text x="807.2" y="247.4" font-size="19.08" text-anchor="end" fill="#000" textLength="11.5" lengthAdjust="spacingAndGlyphs">0</text>
<line x1="811.9" y1="181.6" x2="816.5" y2="181.6" stroke="#555" stroke-width="1"/>
<text x="807.2" y="189" font-size="19.08" text-anchor="end" fill="#000" textLength="11.5" lengthAdjust="spacingAndGlyphs">2</text>
<line x1="811.9" y1="123.2" x2="816.5" y2="123.2" stroke="#555" stroke-width="1"/>
<text x="807.2" y="130.6" font-size="19.08" text-anchor="end" fill="#000" textLength="11.5" lengthAdjust="spacingAndGlyphs">4</text>
<line x1="811.9" y1="64.8" x2="816.5" y2="64.8" stroke="#555" stroke-width="1"/>
<text x="807.2" y="72.2" font-size="19.08" text-anchor="end" fill="#000" textLength="11.5" lengthAdjust="spacingAndGlyphs">6</text>
<line x1="811.9" y1="6.4" x2="816.5" y2="6.4" stroke="#555" stroke-width="1"/>
<text x="807.2" y="13.8" font-size="19.08" text-anchor="end" fill="#000" textLength="11.5" lengthAdjust="spacingAndGlyphs">8</text>
<line x1="816.5" y1="473.5" x2="816.5" y2="478.1" stroke="#555" stroke-width="1"/>
<text x="815.7" y="499.3" font-size="20.67" text-anchor="middle" fill="#000" textLength="5.8" lengthAdjust="spacingAndGlyphs">J</text>
<line x1="872.5" y1="473.5" x2="872.5" y2="478.1" stroke="#555" stroke-width="1"/>
<text x="872.5" y="497.1" font-size="20.67" text-anchor="middle" fill="#000" textLength="11.2" lengthAdjust="spacingAndGlyphs">F</text>
<line x1="924.5" y1="473.5" x2="924.5" y2="478.1" stroke="#555" stroke-width="1"/>
<text x="924.5" y="497.1" font-size="20.67" text-anchor="middle" fill="#000" textLength="16.8" lengthAdjust="spacingAndGlyphs">M</text>
<line x1="980.5" y1="473.5" x2="980.5" y2="478.1" stroke="#555" stroke-width="1"/>
<text x="980.5" y="497.1" font-size="20.67" text-anchor="middle" fill="#000" textLength="13.3" lengthAdjust="spacingAndGlyphs">A</text>
<line x1="1034.5" y1="473.5" x2="1034.5" y2="478.1" stroke="#555" stroke-width="1"/>
<text x="1034.5" y="497.1" font-size="20.67" text-anchor="middle" fill="#000" textLength="16.8" lengthAdjust="spacingAndGlyphs">M</text>
<line x1="1090.5" y1="473.5" x2="1090.5" y2="478.1" stroke="#555" stroke-width="1"/>
<text x="1089.7" y="499.3" font-size="20.67" text-anchor="middle" fill="#000" textLength="5.8" lengthAdjust="spacingAndGlyphs">J</text>
<line x1="1144.5" y1="473.5" x2="1144.5" y2="478.1" stroke="#555" stroke-width="1"/>
<text x="1143.7" y="499.3" font-size="20.67" text-anchor="middle" fill="#000" textLength="5.8" lengthAdjust="spacingAndGlyphs">J</text>
<line x1="1200.8" y1="473.5" x2="1200.8" y2="478.1" stroke="#555" stroke-width="1"/>
<text x="1200.8" y="497.1" font-size="20.67" text-anchor="middle" fill="#000" textLength="13.3" lengthAdjust="spacingAndGlyphs">A</text>
<line x1="1256.8" y1="473.5" x2="1256.8" y2="478.1" stroke="#555" stroke-width="1"/>
<text x="1256.8" y="497.1" font-size="20.67" text-anchor="middle" fill="#000" textLength="12.4" lengthAdjust="spacingAndGlyphs">S</text>
<line x1="1310.8" y1="473.5" x2="1310.8" y2="478.1" stroke="#555" stroke-width="1"/>
<text x="1310.8" y="497.1" font-size="20.67" text-anchor="middle" fill="#000" textLength="15.3" lengthAdjust="spacingAndGlyphs">O</text>
<line x1="1367" y1="473.5" x2="1367" y2="478.1" stroke="#555" stroke-width="1"/>
<text x="1367" y="497.1" font-size="20.67" text-anchor="middle" fill="#000" textLength="14.6" lengthAdjust="spacingAndGlyphs">N</text>
<line x1="1421.2" y1="473.5" x2="1421.2" y2="478.1" stroke="#555" stroke-width="1"/>
<text x="1421.2" y="497.1" font-size="20.67" text-anchor="middle" fill="#000" textLength="15" lengthAdjust="spacingAndGlyphs">D</text>
<line x1="816.5" y1="6.5" x2="1475.5" y2="6.5" stroke="#111" stroke-width="1.1"/>
<line x1="816.5" y1="473.5" x2="1475.5" y2="473.5" stroke="#222" stroke-width="1.1"/>
<line x1="816.5" y1="6.5" x2="816.5" y2="473.5" stroke="#808080" stroke-width="1.1"/>
<line x1="1475.5" y1="6.5" x2="1475.5" y2="473.5" stroke="#808080" stroke-width="1.1"/>
<text x="1146" y="521" font-size="22.26" text-anchor="middle" fill="#000" textLength="76.8" lengthAdjust="spacingAndGlyphs">Months</text>
<text x="831.5" y="27" font-size="21.94" text-anchor="start" fill="#000" textLength="504" lengthAdjust="spacingAndGlyphs">b) ENSO composite of TT gradient from NCEP-V3</text>
<defs><clipPath id="cpc"><rect x="64.5" y="543.5" width="659.0" height="468.0"/></clipPath>
<clipPath id="cpd"><rect x="816.5" y="543.5" width="659.0" height="468.0"/></clipPath>
<g id="coast" fill="none" stroke="#000" stroke-width="1.9" stroke-linejoin="round"><path d="M56.3,654.6 L64.5,652.9 L72.7,651.1 L82.6,652.9 L90.9,654.1 L99.1,652.9 L102.4,650 L104.9,645.3 L106.5,642.4 L109.8,637.7 L113.1,633 L112.3,627.7 L114.7,625.4 L115.6,621.9 L110.6,621.9 L103.2,620.7 L97.5,624.2 L87.6,625.4 L81,621.9 L69.4,621.3 L62.9,623.6"/><path d="M83.4,633 L85.9,630.7 L91.7,629.5 L97.5,628.9 L102.4,627.2 L97.5,631.2 L94.2,632.4 L88.4,633.6 L83.4,633"/><path d="M83.4,652.9 L84.3,657 L85.5,660.8 L85.9,664 L90.9,669.9 L96.6,676.9 L99.9,682.7 L106.5,693.3 L110.6,696.2 L109.8,700.9 L119.7,707.3 L123.8,713.1 L123,720.2 L126.3,726.6 L133.7,730.7 L138.6,740.1 L141.1,744.7 L146.9,746.5 L156.8,752.9 L165.8,760 L173.2,766.4 L172.4,768.7 L175.7,769.9 L184.8,775.2 L201.2,772.8 L220.2,769.9 L231.7,767.6 L238.3,766.4 L238.3,774 L235.8,777.5 L230.1,788.6 L225.1,796.2 L217.7,805 L210.3,811.4 L201.2,819 L193,824.3 L180.6,830.1 L172.4,834.2 L163.4,841.3 L160.1,845.9 L154.3,848.3 L147.7,855.3 L143.6,861.7 L140.3,863.5 L137,874 L141.9,882.8 L146.1,895.1 L150.2,899.2 L151.8,919.1 L153.5,922 L151,926.1 L141.9,933.7 L125.5,939 L116.4,945.4 L107.3,950.7 L104,953 L109,958.8 L109.8,965.3 L109,973.5 L110.6,974.6 L105.7,979.3 L89.2,984.6 L85.9,988.1 L87.6,994 L85.1,1001.6 L82.6,1004.5 L75.2,1008 L71.9,1011.5 L67,1017.3"/><path d="M85.5,660.8 L90,665.2 L94.2,668.7 L99.9,673.4 L101.6,670.4 L104.9,663.4 L105.7,664.6 L104.9,668.7 L105.7,671.6 L107.3,672.2 L113.9,679.2 L118,683.9 L126.3,693.8 L131.2,695.6 L139.5,704.4 L139.5,709.6 L145.2,717.2 L154.3,722.5 L156.8,728.9 L165.8,736.5 L168.3,740.6 L169.9,746.5 L171.6,752.3 L174.1,760 L175.7,762.3 L179.8,762.3 L188.1,761.1 L198.8,757.6 L212.8,754.1 L225.1,750.6 L239.1,747.1 L247.4,744.7 L249,740.1 L257.3,737.7 L272.9,733 L281.1,731.3 L285.3,726.6 L292.7,725.4 L293.5,720.2 L299.3,716.7 L307.5,709.6 L310,704.4 L303.4,701.5 L296,697.4 L290.2,696.2 L282,690.3 L281.1,685.7 L282,681.6 L278.7,683.9 L273.7,687.4 L262.2,695 L250.7,694.4 L242.4,693.8 L242.4,685.1 L240,683.3 L237.5,689.8 L235.8,690.9 L230.9,686.2 L230.1,679.8 L225.1,677.5 L220.2,674.5 L216.1,669.3 L210.3,666.4 L212.8,661.1 L217.7,661.1 L221.8,659.9 L230.1,659.9 L236.7,666.4 L240,672.2 L251.5,675.7 L258.1,678.6 L268,681 L276.2,678.6 L281.1,676.9 L286.9,679.2 L290.2,685.7 L299.3,686.2 L308.3,687.4 L324,689.2 L335.5,688.6 L348.7,688.6 L364.3,687.4 L370.1,690.9 L373.4,696.2 L379.2,697.4 L384.1,702 L386.6,705.5 L394,712.6 L400.6,714.3 L411.3,712 L415.4,710.8 L417.1,717.2 L417.1,724.9 L418.7,731.3 L422,740.1 L427,746.5 L431.1,754.1 L433.5,760.5 L438.5,767 L441.8,771.1 L445.1,776.3 L447.5,780.4 L451.7,785.7 L455.8,788.6 L460.7,786.9 L462.4,783.9 L468.1,781.6 L470.6,775.7 L474.7,775.2 L475.6,768.7 L478,760 L478.8,743 L484.6,740.6 L494.5,738.9 L496.1,736.5 L509.3,728.9 L518.4,721.9 L529.9,717.8 L533.2,712.6 L538.2,709.6 L543.9,709.1 L550.5,707.9 L558.8,707.9 L563.7,705 L570.3,702.6 L573.6,706.1 L576.9,713.1 L580.2,714.9 L584.3,719.6 L589.2,724.9 L594.2,728.9 L595.8,734.8 L593.3,742.4 L598.3,743.6 L603.2,744.2 L612.3,739.5 L618.1,737.1 L621.4,741.8 L623.8,748.2 L626.3,755.9 L628.8,759.4 L629.6,767 L628.8,773.4 L627.1,783.4 L627.1,786.9 L625.5,787.4 L628.8,789.8 L633.7,795 L641.1,798.6 L643.6,805 L646.1,811.4 L651.8,819 L656,822 L662.5,825.5 L669.1,828.4 L675.7,827.8 L673.3,821.4 L669.1,813.2 L669.1,807.9 L660.9,800.3 L654.3,796.2 L644.4,792.7 L641.9,787.4 L640.3,782.2 L634.5,778.1 L634.5,772.2 L637.8,766.4 L641.1,761.7 L641.9,757.6 L648.5,757.6 L648.5,762.3 L655.1,762.3 L662.5,764.6 L666.7,771.1 L676.5,774.6 L680.7,776.3 L683.1,783.4 L680.7,785.7 L687.3,783.4 L693.8,780.4 L696.3,775.2 L702.1,774.6 L710.3,771.6 L716.9,767.6 L717.7,761.7 L716.9,757.6 L714.4,746.5 L709.5,741.8 L702.1,738.3 L696.3,734.2 L690.6,728.9 L688.1,724.3 L693.8,719.6 L696.3,714.9 L706.2,710.2 L711.1,709.1 L715.3,709.6 L722.7,710.8 L727.6,712"/><path d="M223.5,906.2 L229.2,915 L232.5,926.1 L230.9,929.6 L227.6,936 L224.3,941.3 L217.7,955.9 L209.5,975.2 L205.4,981.7 L198.8,983.4 L191.4,985.8 L186.4,984 L179.8,981.7 L177.4,974.1 L174.1,965.3 L174.9,960.6 L179,957.7 L183.1,953.6 L183.9,949.5 L181.5,944.2 L179.8,937.8 L183.1,930.8 L192.2,929 L198.8,928.4 L205.4,923.8 L210.3,921.4 L212.8,917.3 L219.4,912.6 L223.5,906.2"/><path d="M475.6,796.2 L474.7,789.2 L477.2,778.7 L483,781.6 L487.1,785.7 L491.2,792.1 L489.6,798 L486.3,799.7 L478.8,801.1 L475.6,796.2"/><path d="M602.4,803.8 L620.5,805.6 L627.9,810.8 L633.7,814.9 L644.4,822.5 L652.7,824.3 L658.4,827.8 L666.7,832.5 L672.4,841.3 L677.4,842.4 L681.5,849.5 L687.3,853.5 L689.7,861.2 L688.9,870.2 L679.8,870.5 L673.3,865.2 L662.5,860.6 L652.7,852.4 L648.5,848.3 L641.9,840.1 L635.4,834.8 L629.6,825.5 L622.2,822 L618.1,816.7 L611.5,813.2 L603.2,806.9 L602.4,803.8"/><path d="M727.6,876.4 L723.5,876.4 L711.1,873.4 L701.3,870.9 L690.6,870.5 L685.6,876.4 L693.8,879.3 L712.8,881 L723.5,883.4 L727.6,884"/><path d="M727.6,826.1 L720.2,824.3 L715.3,830.1 L715.3,836 L718.6,840.7 L723.5,845.4 L727.6,850.6"/><path d="M727.6,718.4 L721,719 L712.8,722.5 L712,727.8 L718.6,729.5 L727.6,727.2"/><path d="M258.9,761.7 L263.8,761.7 L266.3,762.9 L262.2,764 L258.1,763.5 L258.9,761.7"/><path d="M581,757 L583.5,760 L582.6,765.8 L581,771.6 L579.3,768.7 L580.2,762.9 L581,757"/><path d="M608.2,820.2 L611.5,822 L609.8,822.5 L607.4,820.8 L608.2,820.2"/><path d="M618.9,827.8 L623,830.7 L622.2,832.5 L618.1,829.6 L618.9,827.8"/><path d="M629.6,841.8 L633.7,845.4 L632.9,846.5 L628.8,843 L629.6,841.8"/><path d="M290.2,953 L292.7,954.2 L291.9,955.9 L289.4,954.8 L290.2,953"/><path d="M272.9,958.3 L276.2,958.8 L275.4,960.6 L272.9,960 L272.9,958.3"/><path d="M204.5,558.1 L204.5,569.2 L208.7,568.7 L204.5,575.7 L209.5,584.5 L217.7,591.5 L224.3,600.2 L221,611.4 L220.2,615.5 L227.6,617.8 L237.5,621.3 L261.4,620.1 L261.4,617.8 L260.6,609 L255.6,606.1 L254.8,602 L252.3,596.7 L261.4,595 L263,591.5 L254,589.7 L249,585.6 L240,583.3 L235,578.6 L240,576.8 L235.8,575.1 L239.1,571.6 L252.3,571 L254.8,565.1 L245.7,562.2 L239.1,560.5 L228.4,563.4 L221,564.6 L216.9,558.1"/><path d="M296.8,569.8 L303.4,565.7 L311.6,566.9 L320.7,571 L320.7,575.1 L312.4,580.4 L300.1,580.9 L296.8,575.7 L296.8,569.8"/><path d="M422.8,565.7 L428.6,562.8 L439.3,564 L451.7,564.6 L468.1,562.8 L470.6,565.1 L455.8,567.5 L439.3,566.9 L429.4,569.2 L422.8,571 L422.8,565.7"/><path d="M56.3,595 L64.5,595 L74.4,595.6 L83.4,592.1 L93.3,590.3 L105.7,590.3 L109.8,592.6 L121.3,594.4 L132.9,596.7 L142.8,596.1 L150.2,596.1 L159.2,593.2 L160.9,586.8 L155.1,582.1 L146.1,582.1 L136.2,576.8 L126.3,574.5 L119.7,571 L126.3,570.4 L134.5,564 L140.3,560.5 L132,560.5 L122.2,563.4 L108.2,571 L118,571.6 L105.7,573.9 L93.3,575.7 L85.9,570.4 L94.2,567.5 L76.9,563.4 L68.6,565.1 L60.4,570.4"/><path d="M79.3,841.8 L81,834.8 L89.2,833.7 L97.5,834.8 L98.3,838.9 L97.5,841.8 L93.3,850 L85.1,851.2 L78.5,845.4 L79.3,841.8"/><path d="M97.5,892.2 L101.6,897.4 L104.9,903.3 L103.2,909.1 L107.3,917.9 L105.7,919.7 L101.6,913.8 L99.9,906.2 L97.5,897.4 L97.5,892.2"/><path d="M64.5,862.3 L67.8,871.1 L69.4,878.7 L74.4,886.3 L71.1,886.3 L66.1,877 L61.2,871.1"/><path d="M379.2,697.4 L384.1,693.8 L394,694.4 L400.6,688.6 L395.6,681 L389.9,678 L398.9,672.2 L409.7,672.2 L417.9,664.6 L427,660.5 L431.9,654.1 L437.7,647 L431.9,644.1 L427,640.6 L428.6,633 L424.5,631.8 L431.1,628.3 L441.8,623.1 L451.7,626 L458.3,628.3 L466.5,627.7 L472.3,627.7 L478.8,628.9 L478,634.2 L467.3,639.4 L471.4,645.9 L466.5,649.4 L473.9,655.2 L478.8,659.9 L477.2,667.5 L488.7,672.8 L503.6,676.3 L514.3,676.9 L524.2,680.4 L534,681.6 L543.1,680.4 L543.9,672.8 L548.9,671.6 L549.7,676.3 L554.6,679.2 L575.2,679.2 L576,675.1 L572.8,673.4 L583.5,672.2 L595.8,665.2 L609,664 L618.9,670.4 L616.4,674 L603.2,680.4 L599.1,687.4 L596.6,692.7 L587.6,696.2 L585.1,706.1 L581,707.3 L577.7,697.4 L573.6,695.6 L568.6,697.9 L571.9,690.3 L576.9,689.2 L558.8,688.6 L557.1,684.5 L547.2,681.6 L544.7,687.4 L549.7,692.1 L548,694.4 L550.5,702 L551.3,708.5"/><path d="M683.1,845.4 L690.6,847.1 L697.1,853.5 L693,854.1 L688.1,850.6 L683.1,847.7 L683.1,845.4"/><path d="M703.7,851.2 L709.5,851.8 L708.7,854.7 L703.7,854.1 L703.7,851.2"/></g>
<g id="gbox" fill="none" stroke="#008000" stroke-width="2.1" stroke-dasharray="7.3 2.8"><line x1="146.9" y1="631.2" x2="641.1" y2="631.2"/><line x1="146.9" y1="806.8" x2="641.1" y2="806.8"/><line x1="146.9" y1="923.8" x2="641.1" y2="923.8"/><line x1="146.9" y1="631.2" x2="146.9" y2="923.8"/><line x1="641.1" y1="631.2" x2="641.1" y2="923.8"/><line x1="542.3" y1="631.2" x2="542.3" y2="806.8"/></g>
<mask id="mc" maskUnits="userSpaceOnUse" x="0" y="0" width="1500" height="1119"><rect width="1500" height="1119" fill="#fff"/><rect x="104.5" y="573.8" width="52" height="11" fill="#000" transform="rotate(-20 130.5 579.3)"/><rect x="202.7" y="607.7" width="52" height="11" fill="#000" transform="rotate(2 228.7 613.2)"/><rect x="365" y="581.5" width="52" height="11" fill="#000" transform="rotate(40 391 587)"/><rect x="177.5" y="756.5" width="35" height="11" fill="#000" transform="rotate(0 195 762)"/><rect x="63" y="653" width="35" height="11" fill="#000" transform="rotate(0 80.5 658.5)"/><rect x="112.2" y="1005.5" width="35" height="11" fill="#000" transform="rotate(0 129.7 1011)"/></mask>
<mask id="md" maskUnits="userSpaceOnUse" x="0" y="0" width="1500" height="1119"><rect width="1500" height="1119" fill="#fff"/><rect x="1225.7" y="585.3" width="35" height="11" fill="#000" transform="rotate(0 1243.2 590.8)"/><rect x="1004.3" y="672" width="35" height="11" fill="#000" transform="rotate(4 1021.8 677.5)"/><rect x="897" y="697.9" width="35" height="11" fill="#000" transform="rotate(0 914.5 703.4)"/><rect x="838.5" y="856.9" width="52" height="11" fill="#000" transform="rotate(0 864.5 862.4)"/><rect x="962.5" y="907" width="35" height="11" fill="#000" transform="rotate(0 980 912.5)"/><rect x="962.5" y="984" width="35" height="11" fill="#000" transform="rotate(-4 980 989.5)"/></mask>
</defs>
<g clip-path="url(#cpc)">
<rect x="64.5" y="543.5" width="659.0" height="468.0" fill="#f4a582"/>
<path d="M64.5,543.5L64.5,772.5C68.8,771.8 82,769.2 90,768C98,766.8 104.5,765.4 112.5,765C120.5,764.6 131.2,766.3 138,765.7C144.8,765.1 148.5,761.5 153,761.2C157.5,761 162,763.6 165,764.2C168,764.8 165.8,765.2 171,765C176.2,764.8 187.5,763.5 196,763C204.5,762.5 211.3,762.8 222,762C232.7,761.2 247,759.2 260,758C273,756.8 286.7,755.7 300,755C313.3,754.3 326.7,754.7 340,754C353.3,753.3 366.7,753.3 380,751C393.3,748.7 406.7,743.5 420,740C433.3,736.5 446.7,732.9 460,730C473.3,727.1 489.6,724.8 500,722.4C510.4,720 515,717.9 522.5,715.5C530,713.1 537.5,710.2 545,708C552.5,705.8 561.2,703.4 567.5,702C573.8,700.6 576.2,700.2 582.5,699.7C588.8,699.2 597.5,699 605,699C612.5,699 620,699.2 627.5,699.7C635,700.2 641.2,701.4 650,702C658.8,702.6 667.8,703.9 680,703.5C692.2,703.1 716.2,700.3 723.5,699.7L723.5,543.5Z" fill="#fddbc7"/>
<path d="M64.5,1011.5L64,890.6C70,891.1 86,892.6 100,893.8C114,895 134,896.7 148,898C162,899.3 172,900.4 184,901.6C196,902.8 210,904.2 220,905.2C230,906.2 236.4,906.7 244,907.6C251.6,908.5 255.9,908.6 265.4,910.7C274.9,912.8 291,917.2 300.8,920.1C310.6,923 316.5,925.5 324.4,928.4C332.3,931.3 340.1,934.3 348,937.8C355.9,941.3 364.6,946.2 371.6,949.6C378.6,953 382.9,954.7 390,958.2C397.1,961.7 405,966.3 414,970.8C423,975.3 434,981.7 444,985.2C454,988.7 465,990.5 474,991.8C483,993.1 488,993.1 498,993C508,992.9 522,992 534,991.2C546,990.4 558,989.4 570,988.2C582,987 592.4,985 606.1,983.8C619.8,982.5 636.9,981.5 652.3,980.7C667.7,979.9 686.5,979.5 698.4,979.2C710.3,979 719.3,979.2 723.5,979.2L723.5,1011.5Z" fill="#fddbc7"/>
<path d="M372,1012C375,1011.6 383,1011.1 390,1009.8C397,1008.5 404,1005.7 414,1004.4C424,1003.1 439,1002.1 450,1001.8C461,1001.5 472,1001.8 480,1002.6C488,1003.4 492,1005.3 498,1006.8C504,1008.3 512.3,1010.6 516,1011.6C519.7,1012.6 519.3,1012.8 520,1013Z" fill="#f4a582"/>
<path d="M64.5,543.5L64.5,714C73.8,714.5 105.8,716 120,717C134.2,718 137.5,718.8 150,720C162.5,721.2 183.3,724.1 195,724.5C206.7,724.9 212.5,723 220,722.4C227.5,721.8 231.7,721.4 240,721C248.3,720.6 260,720 270,720C280,720 288.3,721.2 300,721C311.7,720.8 326.7,720.3 340,719C353.3,717.7 366.7,715.5 380,713C393.3,710.5 406.7,707 420,704C433.3,701 446.7,698.2 460,695C473.3,691.8 490.8,687.7 500,685C509.2,682.3 510,680.2 515,678.7C520,677.2 522.5,676.5 530,675.7C537.5,674.9 550,674.6 560,674C570,673.4 581.2,672.6 590,672C598.8,671.4 605,670.1 612.5,670.5C620,670.9 628.8,673.2 635,674.2C641.2,675.2 642.5,675.9 650,676.5C657.5,677.1 671.2,677.5 680,677.7C688.8,677.9 695.2,677.9 702.5,677.7C709.8,677.5 720,676.7 723.5,676.5L723.5,543.5Z" fill="#f7f7f7"/>
<path d="M64,908.8C70,909.8 88,912.8 100,914.8C112,916.8 124,919.2 136,920.8C148,922.4 160,923.5 172,924.4C184,925.3 198,925.4 208,926.2C218,927 224.4,928.1 232,929.2C239.6,930.4 246.1,931.1 253.6,933.1C261.1,935.1 269.3,938.1 277.2,941.3C285.1,944.4 293.9,948 300.8,952C307.7,956 313.6,961.5 318.5,965C323.4,968.5 327.7,971.1 330.3,973.2C332.9,975.4 334,976.1 334.4,977.9C334.8,979.7 334.3,981.6 332.6,983.8C330.9,986 329.7,988.1 324.4,990.9C319.1,993.6 308.7,997.5 300.8,1000.3C292.9,1003 284.8,1005.4 277.2,1007.4C269.6,1009.4 258.7,1011.2 255,1012L64.5,1011.5Z" fill="#f7f7f7"/>
<path d="M64.5,543.5L64.5,677.3C73.3,676.6 98.9,673.5 117.2,673C135.5,672.5 160.1,674.6 174.4,674.4C188.7,674.1 193.7,673.2 203,671.5C212.3,669.8 217.2,665.3 230,664.4C242.8,663.5 266.7,665.2 280,666C293.3,666.8 300,668.8 310,669C320,669.2 332.5,668.1 340,667.5C347.5,666.9 350,665.5 355,665.2C360,665 362.5,665.6 370,666C377.5,666.4 391.2,667.2 400,667.5C408.8,667.8 415,668 422.5,667.5C430,667 437.5,666 445,664.5C452.5,663 460,660.8 467.5,658.5C475,656.2 484.6,653.5 490,651C495.4,648.5 497.6,645.8 500,643.5C502.4,641.2 501.5,639.8 504.5,637.5C507.5,635.2 512.5,632.6 518,630C523.5,627.4 530.2,624.3 537.5,621.7C544.8,619.1 557.2,617.3 561.5,614.2C565.8,611.1 563.2,607.9 563,603C562.8,598.1 561.4,591 560,585C558.6,579 554.7,571.5 554.7,567C554.7,562.5 557.1,560.5 560,558C562.9,555.5 567.5,553.4 572,552C576.5,550.6 581.5,549.7 587,549.7C592.5,549.7 598.2,550.4 605,552C611.8,553.6 620,557 627.5,559.5C635,562 642.5,564 650,567C657.5,570 667.2,573.8 672.5,577.5C677.8,581.2 680,585.2 681.5,589.5C683,593.8 681.9,598.5 681.5,603C681.1,607.5 678.5,612.2 679.2,616.5C680,620.8 682.1,625 686,628.5C689.9,632 696.2,635.2 702.5,637.5C708.8,639.8 720,641.2 723.5,642L723.5,543.5Z" fill="#d1e5f0"/>
<path d="M64,940C70,941.4 90,945.6 100,948.4C110,951.2 116,953.8 124,956.8C132,959.8 141.8,963.2 148,966.4C154.2,969.6 159.6,973.2 161.2,976C162.8,978.8 161.8,980.4 157.6,983.2C153.4,986 143.6,990 136,992.8C128.4,995.6 120,998 112,1000C104,1002 96,1003.6 88,1004.8C80,1006 68,1006.8 64,1007.2Z" fill="#d1e5f0"/>
<path d="M64.5,543.5L64.5,582.2C69.7,581.4 86.5,579.9 95.7,577.5C105,575.1 111,572.2 120,568C129.1,563.8 142.5,556.1 150,552C157.5,547.9 162.5,544.9 165,543.5L457,543.5C460,544.9 469,548.3 475,552C481,555.7 488,561.5 493,565.5C498,569.5 502.3,573.8 505,576C507.7,578.2 507.1,576.2 509,579C510.9,581.8 514.9,588.8 516.5,592.5C518.1,596.2 519,598.2 518.7,601.5C518.5,604.8 516.9,609 515,612C513.1,615 510,617.3 507.5,619.5C505,621.7 502.4,622.2 500,625C497.6,627.8 497.2,633.2 493,636C488.8,638.8 483,640 475,642C467,644 455,646.5 445,648C435,649.5 427.5,650.8 415,651C402.5,651.2 385,649.2 370,649.5C355,649.8 340,652.8 325,652.5C310,652.2 295.8,649.6 280,648C264.2,646.4 241.7,643.4 230,643C218.3,642.6 216.9,644.1 210,645.8C203.1,647.5 197,651.1 188.7,653C180.4,654.9 173.1,656.5 160,657.2C146.9,657.9 125.9,657.2 110,657.2C94.1,657.2 72.1,657.2 64.5,657.2Z" fill="#92c5de"/>
<path d="M683,543.5C686,544.9 695.8,548.8 701,552C706.2,555.2 711,558.8 714.5,562.5C718,566.2 720.5,572.2 722,574.5C723.5,576.8 723.2,575.8 723.5,576L723.5,543.5Z" fill="#92c5de"/>
<path d="M723.5,591C723.2,591.2 722.6,590.2 722,592.5C721.4,594.8 719.7,600.8 719.7,604.5C719.7,608.2 721.4,613.1 722,615C722.6,616.9 723.2,615.8 723.5,616Z" fill="#92c5de"/>
<path d="M64,958C66,959 72.4,961.8 76,964C79.6,966.2 83.5,969.2 85.6,971.2C87.7,973.2 88.6,974 88.6,976C88.6,978 87.7,981.4 85.6,983.2C83.5,985 79.6,985.8 76,986.8C72.4,987.8 66,988.8 64,989.2Z" fill="#92c5de"/>
<path d="M64.5,602.9C71.6,600.6 97.7,592.4 107.2,589.3C116.7,586.2 113.6,585.6 121.5,584.3C129.4,583 148,582.7 154.4,581.5C160.8,580.3 152.4,580.8 160,577.2C167.6,573.6 186.5,565 200,560C213.5,555 227.7,549.6 241,547C254.3,544.4 265.2,544.9 280,544.4C294.8,543.9 319.7,543.8 330,543.8C340.3,543.8 335.3,543.7 342,544.2C348.7,544.7 358.7,545.5 370,547C381.3,548.5 398.3,550.7 410,553C421.7,555.3 431.7,558.2 440,561C448.3,563.8 454.3,566.2 460,570C465.7,573.8 470.7,579.3 474,584C477.3,588.7 479.3,594.8 480,598C480.7,601.2 479.3,600.2 478,603C476.7,605.8 475,611.5 472,615C469,618.5 462.5,621 460,624C457.5,627 459.5,631 457,633C454.5,635 452,635.2 445,636C438,636.8 427.5,637.5 415,637.5C402.5,637.5 385,636.6 370,636C355,635.4 340,634.6 325,633.7C310,632.8 295.8,631.4 280,630.7C264.2,630 242.8,629.2 230,629.4C217.2,629.5 212.2,630.2 203,631.5C193.7,632.8 183.9,635.8 174.4,637.2C164.9,638.7 157.7,639.5 145.8,640.1C133.9,640.7 116.4,641 102.9,640.8C89.3,640.6 70.9,639 64.5,638.7Z" fill="#4393c3"/>
<path d="M145.8,604.3C147,602.2 152.9,599.8 160.1,597.2C167.2,594.6 180.3,591.2 188.7,588.6C197,586 203.2,583.4 210.1,581.5C217,579.6 218.4,580.1 230,577.2C241.6,574.3 264.2,566.5 280,564C295.8,561.5 312.5,562.5 325,562.2C337.5,562 345,562.2 355,562.5C365,562.8 375,563 385,564C395,565 407.5,566.8 415,568.5C422.5,570.2 425.5,572 430,574.5C434.5,577 439.5,580.5 442,583.5C444.5,586.5 444.8,589.8 445,592.5C445.2,595.2 444.8,597 443.5,600C442.2,603 439.8,607.5 437.5,610.5C435.2,613.5 433.8,615.5 430,618C426.2,620.5 425,624.8 415,625.5C405,626.2 385,623.2 370,622.5C355,621.8 340,621.6 325,621C310,620.4 295.8,620.2 280,618.8C264.2,617.3 242.8,613.3 230,612.2C217.2,611.1 212.2,612.2 203,612.2C193.7,612.2 182.7,612.6 174.4,612.2C166,611.8 157.7,611.4 152.9,610.1C148.2,608.7 144.6,606.5 145.8,604.3Z" fill="#2166ac"/>
<path d="M322,594.8C322.5,592.9 325,589.8 328,588C331,586.2 334.5,584.8 340,583.8C345.5,582.8 354.5,582 361,582C367.5,582 373.5,582.5 379,583.5C384.5,584.5 390.5,586 394,588C397.5,590 399.5,593.2 400,595.5C400.5,597.8 399.5,599.6 397,601.5C394.5,603.4 389.5,605.6 385,606.8C380.5,607.9 375.5,608.1 370,608.2C364.5,608.4 358,608.2 352,607.5C346,606.8 338.5,605.1 334,603.8C329.5,602.4 327,600.8 325,599.2C323,597.8 321.5,596.6 322,594.8Z" fill="#053061"/>
<path d="M64,821.2C65.5,821.4 71,822.7 72.7,822.1C74.4,821.5 73.1,818.9 74.4,817.7C75.7,816.5 78.2,815.1 80.5,815.1C82.8,815.1 85.6,817.3 88.3,817.7C91,818.1 94,818.3 96.9,817.7C99.8,817.1 102.4,815 105.6,814.3C108.8,813.6 110.8,813.7 116,813.4C121.2,813.1 129.6,813.3 136.8,812.5C144,811.7 152.7,809.4 159.3,808.7C166,808 169.5,808 176.7,808.2C183.9,808.4 194,808.9 202.7,809.9C211.4,810.9 220,812.3 228.7,814.3C237.4,816.3 246,819.4 254.7,822.1C263.4,824.8 273.5,827.8 280.7,830.7C287.9,833.6 293.7,836.6 298,839.4C302.3,842.1 304.8,844.5 306.7,847.2C308.6,850 309.3,853.5 309.3,855.9C309.3,858.3 308.6,859.9 306.7,861.9C304.8,863.9 302.3,866.2 298,868C293.7,869.8 286.5,872.1 280.7,872.9C274.9,873.7 270.5,873.6 263.3,872.9C256.1,872.2 247.4,871 237.3,868.9C227.2,866.8 214.2,862.7 202.7,860.2C191.1,857.7 177.2,855.7 168,854.1C158.8,852.5 152.4,851.6 147.2,850.7C142,849.8 141.1,850.5 136.8,848.9C132.5,847.3 126.1,842.2 121.2,841.1C116.3,840 111,842.1 107.3,842C103.5,841.9 101.6,841.2 98.7,840.3C95.8,839.4 93.5,837.6 90,836.8C86.5,836 82.2,835.6 77.9,835.4C73.6,835.2 66.3,835.4 64,835.4Z" fill="#d6604d"/>
<path d="M723.5,732.7C718.8,733.3 704.8,735.2 695,736.5C685.2,737.8 675,739.3 665,740.2C655,741.1 645,741.6 635,741.7C625,741.8 612.5,741.1 605,741C597.5,740.9 595,740.8 590,741.3C585,741.8 579.5,742.5 575,744C570.5,745.5 566,747.8 563,750C560,752.2 558.2,754.5 557,757.5C555.8,760.5 555.8,765.8 555.5,768C555.2,770.2 554.2,769.5 555.5,771C556.8,772.5 559.8,775.2 563,777C566.2,778.8 570.5,780.2 575,781.5C579.5,782.8 585,783.8 590,784.5C595,785.2 600,785.5 605,786C610,786.5 615.5,786.9 620,787.5C624.5,788.1 628.2,789.3 632,789.7C635.8,790.1 637,790 642.5,789.7C648,789.5 656.2,788.5 665,788.2C673.8,788 685.2,788.2 695,788.2C704.8,788.2 718.8,788.2 723.5,788.2Z" fill="#d6604d"/>
<path d="M723.5,857.7C717.5,858 696.9,857.8 687.6,859.2C678.3,860.6 677.3,864.6 667.6,866.1C657.9,867.6 639.5,867.4 629.2,868.4C619,869.4 612.5,869.9 606.1,872.3C599.7,874.7 595.9,879.3 590.8,883C585.7,886.7 580.5,891.8 575.4,894.6C570.3,897.4 569.3,897.9 560.4,900C551.5,902.1 534.4,905 522,907.2C509.6,909.4 495,911.4 486,913.2C477,915 472.4,916 468,918C463.6,920 461.1,923.2 459.6,925.2C458.1,927.2 458.2,927.8 459,930C459.8,932.2 460.9,935.4 464.4,938.4C467.9,941.4 473.4,945.2 480,948C486.6,950.8 495,953.2 504,955.2C513,957.2 524.7,959.1 534,960C543.3,960.9 550.5,960.5 560,960.7C569.5,961 578,961.9 590.8,961.5C603.6,961.1 621.5,959.4 636.9,958.4C652.3,957.4 668.6,956.2 683,955.3C697.4,954.4 716.8,953.4 723.5,953Z" fill="#d6604d"/>
<g mask="url(#mc)">
<path d="M64.5,693.7C70.4,693.5 87.4,692.8 100,692.5C112.6,692.2 128.3,691.8 140,692C151.7,692.2 160,693.5 170,694C180,694.5 191.7,695.6 200,695.3C208.3,695 214.2,693.3 220,692C225.8,690.7 230,688.9 235,687.5C240,686.1 245,684.2 250,683.5C255,682.8 259.7,682.5 265,683C270.3,683.5 276.2,685.2 282,686.5C287.8,687.8 292,689.5 300,690.5C308,691.5 320,692.5 330,692.4C340,692.3 348.3,691.2 360,690C371.7,688.8 386.7,686.7 400,685C413.3,683.3 426.7,682.3 440,680C453.3,677.7 470,673.2 480,671C490,668.8 491.7,668.7 500,666.7C508.3,664.7 523,661.3 530,659.2C537,657.1 537,655.2 542,654C547,652.8 553.8,652.5 560,651.7C566.2,651 572.8,650.2 579.5,649.5C586.2,648.8 594.2,648.1 600.5,647.2C606.8,646.3 613,644.5 617,644.2C621,644 621.5,644.7 624.5,645.7C627.5,646.7 630.8,649 635,650.2C639.2,651.4 645,652 650,652.8C655,653.5 657.5,654 665,654.7C672.5,655.4 685.2,656.4 695,657C704.8,657.6 718.8,658.2 723.5,658.5" fill="none" stroke="#000" stroke-width="1.25"/>
<path d="M64.5,714C73.8,714.5 105.8,716 120,717C134.2,718 137.5,718.8 150,720C162.5,721.2 183.3,724.1 195,724.5C206.7,724.9 212.5,723 220,722.4C227.5,721.8 231.7,721.4 240,721C248.3,720.6 260,720 270,720C280,720 288.3,721.2 300,721C311.7,720.8 326.7,720.3 340,719C353.3,717.7 366.7,715.5 380,713C393.3,710.5 406.7,707 420,704C433.3,701 446.7,698.2 460,695C473.3,691.8 490.8,687.7 500,685C509.2,682.3 510,680.2 515,678.7C520,677.2 522.5,676.5 530,675.7C537.5,674.9 550,674.6 560,674C570,673.4 581.2,672.6 590,672C598.8,671.4 605,670.1 612.5,670.5C620,670.9 628.8,673.2 635,674.2C641.2,675.2 642.5,675.9 650,676.5C657.5,677.1 671.2,677.5 680,677.7C688.8,677.9 695.2,677.9 702.5,677.7C709.8,677.5 720,676.7 723.5,676.5" fill="none" stroke="#000" stroke-width="1.25"/>
<path d="M64.5,772.5C68.8,771.8 82,769.2 90,768C98,766.8 104.5,765.4 112.5,765C120.5,764.6 131.2,766.3 138,765.7C144.8,765.1 148.5,761.5 153,761.2C157.5,761 162,763.6 165,764.2C168,764.8 165.8,765.2 171,765C176.2,764.8 187.5,763.5 196,763C204.5,762.5 211.3,762.8 222,762C232.7,761.2 247,759.2 260,758C273,756.8 286.7,755.7 300,755C313.3,754.3 326.7,754.7 340,754C353.3,753.3 366.7,753.3 380,751C393.3,748.7 406.7,743.5 420,740C433.3,736.5 446.7,732.9 460,730C473.3,727.1 489.6,724.8 500,722.4C510.4,720 515,717.9 522.5,715.5C530,713.1 537.5,710.2 545,708C552.5,705.8 561.2,703.4 567.5,702C573.8,700.6 576.2,700.2 582.5,699.7C588.8,699.2 597.5,699 605,699C612.5,699 620,699.2 627.5,699.7C635,700.2 641.2,701.4 650,702C658.8,702.6 667.8,703.9 680,703.5C692.2,703.1 716.2,700.3 723.5,699.7" fill="none" stroke="#000" stroke-width="1.25"/>
<path d="M64,890.6C70,891.1 86,892.6 100,893.8C114,895 134,896.7 148,898C162,899.3 172,900.4 184,901.6C196,902.8 210,904.2 220,905.2C230,906.2 236.4,906.7 244,907.6C251.6,908.5 255.9,908.6 265.4,910.7C274.9,912.8 291,917.2 300.8,920.1C310.6,923 316.5,925.5 324.4,928.4C332.3,931.3 340.1,934.3 348,937.8C355.9,941.3 364.6,946.2 371.6,949.6C378.6,953 382.9,954.7 390,958.2C397.1,961.7 405,966.3 414,970.8C423,975.3 434,981.7 444,985.2C454,988.7 465,990.5 474,991.8C483,993.1 488,993.1 498,993C508,992.9 522,992 534,991.2C546,990.4 558,989.4 570,988.2C582,987 592.4,985 606.1,983.8C619.8,982.5 636.9,981.5 652.3,980.7C667.7,979.9 686.5,979.5 698.4,979.2C710.3,979 719.3,979.2 723.5,979.2" fill="none" stroke="#000" stroke-width="1.25"/>
<path d="M372,1012C375,1011.6 383,1011.1 390,1009.8C397,1008.5 404,1005.7 414,1004.4C424,1003.1 439,1002.1 450,1001.8C461,1001.5 472,1001.8 480,1002.6C488,1003.4 492,1005.3 498,1006.8C504,1008.3 512.3,1010.6 516,1011.6C519.7,1012.6 519.3,1012.8 520,1013" fill="none" stroke="#000" stroke-width="1.25"/>
<path d="M64,908.8C70,909.8 88,912.8 100,914.8C112,916.8 124,919.2 136,920.8C148,922.4 160,923.5 172,924.4C184,925.3 198,925.4 208,926.2C218,927 224.4,928.1 232,929.2C239.6,930.4 246.1,931.1 253.6,933.1C261.1,935.1 269.3,938.1 277.2,941.3C285.1,944.4 293.9,948 300.8,952C307.7,956 313.6,961.5 318.5,965C323.4,968.5 327.7,971.1 330.3,973.2C332.9,975.4 334,976.1 334.4,977.9C334.8,979.7 334.3,981.6 332.6,983.8C330.9,986 329.7,988.1 324.4,990.9C319.1,993.6 308.7,997.5 300.8,1000.3C292.9,1003 284.8,1005.4 277.2,1007.4C269.6,1009.4 258.7,1011.2 255,1012" fill="none" stroke="#000" stroke-width="1.25"/>
<path d="M64,924.4C70,925.6 88,929.2 100,931.6C112,934 124,936.6 136,938.8C148,941 160,943.1 172,944.8C184,946.5 199,947.6 208,949C217,950.4 220.4,951.1 226,953.2C231.6,955.3 237.2,958.6 241.8,961.4C246.4,964.1 251.2,967.2 253.6,969.7C256.1,972.2 256.5,974.1 256.5,976.2C256.5,978.4 256.1,980.4 253.6,982.6C251.2,984.9 249.4,987 241.8,989.7C234.2,992.4 217.6,996.3 208,998.8C198.4,1001.3 192.6,1002.8 184,1004.8C175.4,1006.8 165.4,1008.9 156.4,1010.8C147.4,1012.7 134.4,1015.1 130,1016" fill="none" stroke="#000" stroke-width="1.25"/>
<path d="M64,821.2C65.5,821.4 71,822.7 72.7,822.1C74.4,821.5 73.1,818.9 74.4,817.7C75.7,816.5 78.2,815.1 80.5,815.1C82.8,815.1 85.6,817.3 88.3,817.7C91,818.1 94,818.3 96.9,817.7C99.8,817.1 102.4,815 105.6,814.3C108.8,813.6 110.8,813.7 116,813.4C121.2,813.1 129.6,813.3 136.8,812.5C144,811.7 152.7,809.4 159.3,808.7C166,808 169.5,808 176.7,808.2C183.9,808.4 194,808.9 202.7,809.9C211.4,810.9 220,812.3 228.7,814.3C237.4,816.3 246,819.4 254.7,822.1C263.4,824.8 273.5,827.8 280.7,830.7C287.9,833.6 293.7,836.6 298,839.4C302.3,842.1 304.8,844.5 306.7,847.2C308.6,850 309.3,853.5 309.3,855.9C309.3,858.3 308.6,859.9 306.7,861.9C304.8,863.9 302.3,866.2 298,868C293.7,869.8 286.5,872.1 280.7,872.9C274.9,873.7 270.5,873.6 263.3,872.9C256.1,872.2 247.4,871 237.3,868.9C227.2,866.8 214.2,862.7 202.7,860.2C191.1,857.7 177.2,855.7 168,854.1C158.8,852.5 152.4,851.6 147.2,850.7C142,849.8 141.1,850.5 136.8,848.9C132.5,847.3 126.1,842.2 121.2,841.1C116.3,840 111,842.1 107.3,842C103.5,841.9 101.6,841.2 98.7,840.3C95.8,839.4 93.5,837.6 90,836.8C86.5,836 82.2,835.6 77.9,835.4C73.6,835.2 66.3,835.4 64,835.4" fill="none" stroke="#000" stroke-width="1.25"/>
<path d="M723.5,732.7C718.8,733.3 704.8,735.2 695,736.5C685.2,737.8 675,739.3 665,740.2C655,741.1 645,741.6 635,741.7C625,741.8 612.5,741.1 605,741C597.5,740.9 595,740.8 590,741.3C585,741.8 579.5,742.5 575,744C570.5,745.5 566,747.8 563,750C560,752.2 558.2,754.5 557,757.5C555.8,760.5 555.8,765.8 555.5,768C555.2,770.2 554.2,769.5 555.5,771C556.8,772.5 559.8,775.2 563,777C566.2,778.8 570.5,780.2 575,781.5C579.5,782.8 585,783.8 590,784.5C595,785.2 600,785.5 605,786C610,786.5 615.5,786.9 620,787.5C624.5,788.1 628.2,789.3 632,789.7C635.8,790.1 637,790 642.5,789.7C648,789.5 656.2,788.5 665,788.2C673.8,788 685.2,788.2 695,788.2C704.8,788.2 718.8,788.2 723.5,788.2" fill="none" stroke="#000" stroke-width="1.25"/>
<path d="M723.5,857.7C717.5,858 696.9,857.8 687.6,859.2C678.3,860.6 677.3,864.6 667.6,866.1C657.9,867.6 639.5,867.4 629.2,868.4C619,869.4 612.5,869.9 606.1,872.3C599.7,874.7 595.9,879.3 590.8,883C585.7,886.7 580.5,891.8 575.4,894.6C570.3,897.4 569.3,897.9 560.4,900C551.5,902.1 534.4,905 522,907.2C509.6,909.4 495,911.4 486,913.2C477,915 472.4,916 468,918C463.6,920 461.1,923.2 459.6,925.2C458.1,927.2 458.2,927.8 459,930C459.8,932.2 460.9,935.4 464.4,938.4C467.9,941.4 473.4,945.2 480,948C486.6,950.8 495,953.2 504,955.2C513,957.2 524.7,959.1 534,960C543.3,960.9 550.5,960.5 560,960.7C569.5,961 578,961.9 590.8,961.5C603.6,961.1 621.5,959.4 636.9,958.4C652.3,957.4 668.6,956.2 683,955.3C697.4,954.4 716.8,953.4 723.5,953" fill="none" stroke="#000" stroke-width="1.25"/>
<path d="M64.5,677.3C73.3,676.6 98.9,673.5 117.2,673C135.5,672.5 160.1,674.6 174.4,674.4C188.7,674.1 193.7,673.2 203,671.5C212.3,669.8 217.2,665.3 230,664.4C242.8,663.5 266.7,665.2 280,666C293.3,666.8 300,668.8 310,669C320,669.2 332.5,668.1 340,667.5C347.5,666.9 350,665.5 355,665.2C360,665 362.5,665.6 370,666C377.5,666.4 391.2,667.2 400,667.5C408.8,667.8 415,668 422.5,667.5C430,667 437.5,666 445,664.5C452.5,663 460,660.8 467.5,658.5C475,656.2 484.6,653.5 490,651C495.4,648.5 497.6,645.8 500,643.5C502.4,641.2 501.5,639.8 504.5,637.5C507.5,635.2 512.5,632.6 518,630C523.5,627.4 530.2,624.3 537.5,621.7C544.8,619.1 557.2,617.3 561.5,614.2C565.8,611.1 563.2,607.9 563,603C562.8,598.1 561.4,591 560,585C558.6,579 554.7,571.5 554.7,567C554.7,562.5 557.1,560.5 560,558C562.9,555.5 567.5,553.4 572,552C576.5,550.6 581.5,549.7 587,549.7C592.5,549.7 598.2,550.4 605,552C611.8,553.6 620,557 627.5,559.5C635,562 642.5,564 650,567C657.5,570 667.2,573.8 672.5,577.5C677.8,581.2 680,585.2 681.5,589.5C683,593.8 681.9,598.5 681.5,603C681.1,607.5 678.5,612.2 679.2,616.5C680,620.8 682.1,625 686,628.5C689.9,632 696.2,635.2 702.5,637.5C708.8,639.8 720,641.2 723.5,642" fill="none" stroke="#000" stroke-width="1.25" stroke-dasharray="4.6 2.2"/>
<path d="M64.5,582.2C69.7,581.4 86.5,579.9 95.7,577.5C105,575.1 111,572.2 120,568C129.1,563.8 142.5,556.1 150,552C157.5,547.9 162.5,544.9 165,543.5" fill="none" stroke="#000" stroke-width="1.25" stroke-dasharray="4.6 2.2"/>
<path d="M457,543.5C460,544.9 469,548.3 475,552C481,555.7 488,561.5 493,565.5C498,569.5 502.3,573.8 505,576C507.7,578.2 507.1,576.2 509,579C510.9,581.8 514.9,588.8 516.5,592.5C518.1,596.2 519,598.2 518.7,601.5C518.5,604.8 516.9,609 515,612C513.1,615 510,617.3 507.5,619.5C505,621.7 502.4,622.2 500,625C497.6,627.8 497.2,633.2 493,636C488.8,638.8 483,640 475,642C467,644 455,646.5 445,648C435,649.5 427.5,650.8 415,651C402.5,651.2 385,649.2 370,649.5C355,649.8 340,652.8 325,652.5C310,652.2 295.8,649.6 280,648C264.2,646.4 241.7,643.4 230,643C218.3,642.6 216.9,644.1 210,645.8C203.1,647.5 197,651.1 188.7,653C180.4,654.9 173.1,656.5 160,657.2C146.9,657.9 125.9,657.2 110,657.2C94.1,657.2 72.1,657.2 64.5,657.2" fill="none" stroke="#000" stroke-width="1.25" stroke-dasharray="4.6 2.2"/>
<path d="M683,543.5C686,544.9 695.8,548.8 701,552C706.2,555.2 711,558.8 714.5,562.5C718,566.2 720.5,572.2 722,574.5C723.5,576.8 723.2,575.8 723.5,576" fill="none" stroke="#000" stroke-width="1.25" stroke-dasharray="4.6 2.2"/>
<path d="M723.5,591C723.2,591.2 722.6,590.2 722,592.5C721.4,594.8 719.7,600.8 719.7,604.5C719.7,608.2 721.4,613.1 722,615C722.6,616.9 723.2,615.8 723.5,616" fill="none" stroke="#000" stroke-width="1.25" stroke-dasharray="4.6 2.2"/>
<path d="M64.5,602.9C71.6,600.6 97.7,592.4 107.2,589.3C116.7,586.2 113.6,585.6 121.5,584.3C129.4,583 148,582.7 154.4,581.5C160.8,580.3 152.4,580.8 160,577.2C167.6,573.6 186.5,565 200,560C213.5,555 227.7,549.6 241,547C254.3,544.4 265.2,544.9 280,544.4C294.8,543.9 319.7,543.8 330,543.8C340.3,543.8 335.3,543.7 342,544.2C348.7,544.7 358.7,545.5 370,547C381.3,548.5 398.3,550.7 410,553C421.7,555.3 431.7,558.2 440,561C448.3,563.8 454.3,566.2 460,570C465.7,573.8 470.7,579.3 474,584C477.3,588.7 479.3,594.8 480,598C480.7,601.2 479.3,600.2 478,603C476.7,605.8 475,611.5 472,615C469,618.5 462.5,621 460,624C457.5,627 459.5,631 457,633C454.5,635 452,635.2 445,636C438,636.8 427.5,637.5 415,637.5C402.5,637.5 385,636.6 370,636C355,635.4 340,634.6 325,633.7C310,632.8 295.8,631.4 280,630.7C264.2,630 242.8,629.2 230,629.4C217.2,629.5 212.2,630.2 203,631.5C193.7,632.8 183.9,635.8 174.4,637.2C164.9,638.7 157.7,639.5 145.8,640.1C133.9,640.7 116.4,641 102.9,640.8C89.3,640.6 70.9,639 64.5,638.7" fill="none" stroke="#000" stroke-width="1.25" stroke-dasharray="4.6 2.2"/>
<path d="M64,940C70,941.4 90,945.6 100,948.4C110,951.2 116,953.8 124,956.8C132,959.8 141.8,963.2 148,966.4C154.2,969.6 159.6,973.2 161.2,976C162.8,978.8 161.8,980.4 157.6,983.2C153.4,986 143.6,990 136,992.8C128.4,995.6 120,998 112,1000C104,1002 96,1003.6 88,1004.8C80,1006 68,1006.8 64,1007.2" fill="none" stroke="#000" stroke-width="1.25" stroke-dasharray="4.6 2.2"/>
<path d="M64,958C66,959 72.4,961.8 76,964C79.6,966.2 83.5,969.2 85.6,971.2C87.7,973.2 88.6,974 88.6,976C88.6,978 87.7,981.4 85.6,983.2C83.5,985 79.6,985.8 76,986.8C72.4,987.8 66,988.8 64,989.2" fill="none" stroke="#000" stroke-width="1.25" stroke-dasharray="4.6 2.2"/>
<path d="M145.8,604.3C147,602.2 152.9,599.8 160.1,597.2C167.2,594.6 180.3,591.2 188.7,588.6C197,586 203.2,583.4 210.1,581.5C217,579.6 218.4,580.1 230,577.2C241.6,574.3 264.2,566.5 280,564C295.8,561.5 312.5,562.5 325,562.2C337.5,562 345,562.2 355,562.5C365,562.8 375,563 385,564C395,565 407.5,566.8 415,568.5C422.5,570.2 425.5,572 430,574.5C434.5,577 439.5,580.5 442,583.5C444.5,586.5 444.8,589.8 445,592.5C445.2,595.2 444.8,597 443.5,600C442.2,603 439.8,607.5 437.5,610.5C435.2,613.5 433.8,615.5 430,618C426.2,620.5 425,624.8 415,625.5C405,626.2 385,623.2 370,622.5C355,621.8 340,621.6 325,621C310,620.4 295.8,620.2 280,618.8C264.2,617.3 242.8,613.3 230,612.2C217.2,611.1 212.2,612.2 203,612.2C193.7,612.2 182.7,612.6 174.4,612.2C166,611.8 157.7,611.4 152.9,610.1C148.2,608.7 144.6,606.5 145.8,604.3Z" fill="none" stroke="#000" stroke-width="1.25" stroke-dasharray="4.6 2.2"/>
<path d="M322,594.8C322.5,592.9 325,589.8 328,588C331,586.2 334.5,584.8 340,583.8C345.5,582.8 354.5,582 361,582C367.5,582 373.5,582.5 379,583.5C384.5,584.5 390.5,586 394,588C397.5,590 399.5,593.2 400,595.5C400.5,597.8 399.5,599.6 397,601.5C394.5,603.4 389.5,605.6 385,606.8C380.5,607.9 375.5,608.1 370,608.2C364.5,608.4 358,608.2 352,607.5C346,606.8 338.5,605.1 334,603.8C329.5,602.4 327,600.8 325,599.2C323,597.8 321.5,596.6 322,594.8Z" fill="none" stroke="#000" stroke-width="1.25" stroke-dasharray="4.6 2.2"/>
</g>
<use href="#coast"/>
<use href="#gbox"/>
<rect x="68.5" y="544.5" width="172.8" height="32.2" fill="#fff"/>
<text x="74" y="567.7" font-size="22.26" text-anchor="start" fill="#000" textLength="162" lengthAdjust="spacingAndGlyphs">c) El nino years</text>
<text x="130.5" y="586.8" font-size="22" text-anchor="middle" textLength="50.5" lengthAdjust="spacingAndGlyphs" transform="rotate(-20 130.5 579.3)">−0.3</text>
<text x="228.7" y="620.7" font-size="22" text-anchor="middle" textLength="50.5" lengthAdjust="spacingAndGlyphs" transform="rotate(2 228.7 613.2)">−0.4</text>
<text x="391" y="594.5" font-size="22" text-anchor="middle" textLength="50.5" lengthAdjust="spacingAndGlyphs" transform="rotate(40 391 587)">−0.5</text>
<text x="195" y="769.5" font-size="22" text-anchor="middle" textLength="33.1" lengthAdjust="spacingAndGlyphs">0.2</text>
<text x="80.5" y="666" font-size="22" text-anchor="middle" textLength="33.1" lengthAdjust="spacingAndGlyphs">0.2</text>
<text x="129.7" y="1018.5" font-size="22" text-anchor="middle" textLength="33.1" lengthAdjust="spacingAndGlyphs">0.0</text>
</g>
<g clip-path="url(#cpd)">
<rect x="816.5" y="543.5" width="659.0" height="468.0" fill="#f7f7f7"/>
<path d="M817.2,597.6C827.8,597.5 859.4,596.8 881,596.8C902.6,596.8 928.7,597.3 947,597.6C965.3,598 976.3,599.2 991,599C1005.7,598.7 1020.3,596.9 1035,596.1C1049.7,595.3 1060.7,594.7 1079,593.9C1097.3,593.1 1121.7,591.6 1145,591.1C1168.3,590.6 1197.5,590.8 1218.7,590.9C1239.9,591 1254.8,591.4 1272.3,591.8C1289.8,592.2 1307.7,592.8 1323.7,593.2C1339.7,593.5 1353.4,594.2 1368.3,594C1383.2,593.9 1400,593.5 1413,592.5C1426,591.5 1438.3,589.7 1446.5,588C1454.7,586.3 1457.3,584.3 1462.1,582.4C1467,580.6 1473.3,577.8 1475.5,576.9L1475.5,666.2C1468.8,667.1 1449.5,670.1 1435.3,671.8C1421.2,673.4 1405.6,674.7 1390.7,676.2C1375.8,677.7 1360.9,678.8 1346,680.7C1331.1,682.6 1312.5,684.8 1301.3,687.4C1290.2,690 1290.2,692.2 1279,696.3C1267.8,700.4 1249.2,708.6 1234.3,712C1219.4,715.3 1204.6,714.6 1189.7,716.4C1174.8,718.3 1163.4,720.7 1145,723C1126.6,725.3 1097.3,728.9 1079,730.3C1060.7,731.7 1049.7,731.2 1035,731.4C1020.3,731.6 1005.7,731.9 991,731.4C976.3,730.9 961.7,729.2 947,728.1C932.3,727 917.7,725.7 903,724.8C888.3,723.9 873.3,723.1 859,722.6C844.7,722.1 824.2,721.7 817.2,721.5Z" fill="#fddbc7"/>
<path d="M817.2,615.9C824.2,615.2 844.7,612.4 859,611.5C873.3,610.6 888.3,610.2 903,610.4C917.7,610.6 932.3,611.9 947,612.6C961.7,613.3 976.3,614.2 991,614.8C1005.7,615.3 1020.3,616.3 1035,615.9C1049.7,615.5 1060.7,613.9 1079,612.6C1097.3,611.3 1126.6,609.2 1145,608.1C1163.4,607 1171.1,606.1 1189.7,605.9C1208.3,605.7 1234.3,606.6 1256.7,607C1279,607.4 1305.1,607.7 1323.7,608.1C1342.3,608.5 1353.4,608.7 1368.3,609.2C1383.2,609.7 1395.1,610.6 1413,611C1430.9,611.5 1465.1,611.8 1475.5,611.9L1475.5,646.1C1465.1,647 1430.9,649.6 1413,651.7C1395.1,653.7 1383.2,656.3 1368.3,658.4C1353.4,660.4 1338.6,662.1 1323.7,664C1308.8,665.8 1290.2,667.5 1279,669.5C1267.8,671.6 1264.1,673.6 1256.7,676.2C1249.2,678.8 1245.5,682.6 1234.3,685.2C1223.2,687.8 1204.6,689.9 1189.7,691.9C1174.8,693.8 1163.4,694.4 1145,697C1126.6,699.6 1097.3,705.3 1079,707.2C1060.7,709.1 1049.7,708.1 1035,708.3C1020.3,708.5 1006.4,708.5 991,708.3C975.6,708.1 958,707.8 942.6,707.2C927.2,706.7 912.5,705.7 898.6,705C884.7,704.3 872.6,703.3 859,702.8C845.4,702.2 824.2,701.9 817.2,701.7Z" fill="#f4a582"/>
<path d="M817.2,640.1C824.2,638.8 844.7,634.4 859,632.4C873.3,630.4 888.3,628.4 903,628C917.7,627.6 932.3,629.1 947,630.2C961.7,631.3 976.3,633.9 991,634.6C1005.7,635.3 1020.3,635.2 1035,634.6C1049.7,634 1060.7,632.9 1079,631.3C1097.3,629.7 1128.4,626.9 1145,624.9C1161.6,622.9 1163.6,620 1178.5,619.3C1193.4,618.5 1213.9,619.8 1234.3,620.4C1254.8,621 1284.6,621.7 1301.3,622.6C1318.1,623.6 1323.7,624.1 1334.8,626C1346,627.8 1362.2,631.9 1368.3,633.8C1374.5,635.7 1373.5,635.5 1371.7,637.1C1369.8,638.8 1365.2,641.4 1357.2,643.9C1349.2,646.3 1334.8,649.2 1323.7,651.7C1312.5,654.1 1301.3,656.9 1290.2,658.4C1279,659.9 1266.7,659.5 1256.7,660.6C1246.6,661.7 1237.3,663.2 1229.9,665.1C1222.4,666.9 1218.7,669.9 1212,671.8C1205.3,673.6 1200.8,674.9 1189.7,676.2C1178.5,677.6 1163.4,679.3 1145,680C1126.6,680.8 1095.1,680.7 1079,680.8C1062.9,680.9 1057.7,681.2 1048.2,680.8C1038.7,680.4 1030.6,679.3 1021.8,678.6C1013,677.9 1003.5,676.6 995.4,676.4C987.3,676.2 981.5,676.4 973.4,677.5C965.3,678.6 958.7,681.9 947,683C935.3,684.1 917.7,684.5 903,684.1C888.3,683.7 873.3,681.7 859,680.8C844.7,679.9 824.2,679 817.2,678.6Z" fill="#d6604d"/>
<path d="M1224.3,636C1226,635.1 1229.7,633.4 1234.3,632.7C1239,631.9 1246.6,631 1252.2,631.6C1257.8,632.1 1267.8,634.5 1267.8,636C1267.8,637.5 1257.8,639.6 1252.2,640.5C1246.6,641.4 1239,642 1234.3,641.6C1229.7,641.2 1226,639.2 1224.3,638.3C1222.6,637.3 1222.6,637 1224.3,636Z" fill="#b2182b"/>
<path d="M1256.7,543.4C1262.2,544.3 1279,547.6 1290.2,548.9C1301.3,550.2 1312.5,551.2 1323.7,551.2C1334.8,551.2 1347.1,550.2 1357.2,548.9C1367.2,547.6 1379.5,544.3 1384,543.4Z" fill="#d1e5f0"/>
<path d="M817.2,769.9C824.2,769.7 844.7,768.4 859,768.8C873.3,769.2 888.3,771 903,772.1C917.7,773.2 932.3,774.5 947,775.4C961.7,776.3 976.3,777.4 991,777.6C1005.7,777.8 1020.3,776.5 1035,776.5C1049.7,776.5 1060.7,776.7 1079,777.6C1097.3,778.5 1128.4,779.4 1145,782C1161.6,784.6 1167.3,789.9 1178.5,793.5C1189.7,797 1202.7,801.1 1212,803.5C1221.3,805.9 1223.2,807.1 1234.3,808C1245.5,808.8 1264.1,808.4 1279,808.4C1293.9,808.4 1310.6,808.2 1323.7,808C1336.7,807.7 1347.9,807.4 1357.2,806.9C1366.5,806.3 1373.9,805.9 1379.5,804.6C1385.1,803.3 1386.9,800.7 1390.7,799C1394.4,797.4 1399.2,797.2 1401.8,794.6C1404.4,792 1405.4,787.5 1406.3,783.4C1407.2,779.3 1407,773.3 1407.4,770C1407.8,766.7 1406.5,767.1 1408.5,763.3C1410.6,759.6 1414.1,752.5 1419.7,747.7C1425.3,742.9 1432.7,737.6 1442,734.3C1451.3,730.9 1470,728.7 1475.5,727.6L1475.5,727.6L1475.5,954.2L1475.5,954.2C1468.8,953.9 1449.5,953.1 1435.3,952C1421.2,950.9 1405.6,949.6 1390.7,947.5C1375.8,945.5 1359,942.9 1346,939.7C1333,936.6 1321.8,932.3 1312.5,928.6C1303.2,924.8 1297.6,921.1 1290.2,917.4C1282.7,913.7 1277.1,909.6 1267.8,906.2C1258.5,902.9 1247.4,899.5 1234.3,897.3C1221.3,895.1 1204.6,893.7 1189.7,892.8C1174.8,892 1163.4,891.8 1145,892C1126.6,892.2 1101,893.7 1079,894.3C1057,894.9 1035,895.7 1013,895.8C991,896 965.3,895.4 947,895C928.7,894.5 917.7,893.9 903,893.2C888.3,892.5 873.3,891.4 859,891C844.7,890.6 824.2,891 817.2,891Z" fill="#d1e5f0"/>
<path d="M1475.5,801.3C1468.8,800.7 1445.8,798.5 1435.3,797.9C1424.9,797.4 1417.5,797.7 1413,797.9C1408.5,798.1 1408.9,796.2 1408.5,799C1408.2,801.8 1407.4,809.5 1410.8,814.7C1414.1,819.9 1421.6,825.8 1428.6,830.3C1435.7,834.8 1445.4,838.7 1453.2,841.5C1461,844.3 1471.8,846.1 1475.5,847Z" fill="#f7f7f7"/>
<path d="M817.2,796C824.2,796 846.5,795.2 859,796C871.5,796.8 877.3,799.6 892,800.8C906.7,802 926.8,802.1 947,803C967.2,803.9 994.7,804.8 1013,806.3C1031.3,807.8 1046,809 1057,811.8C1068,814.5 1073.5,818.4 1079,822.8C1084.5,827.2 1089.3,833.4 1090,838.2C1090.7,843 1088.9,847.7 1083.4,851.4C1077.9,855.1 1068.7,857.8 1057,860.2C1045.3,862.6 1027.7,864.4 1013,865.7C998.3,867 983.7,867.9 969,867.9C954.3,867.9 936.7,866.4 925,865.7C913.3,865 904.8,863.9 898.6,863.5C892.4,863.1 897.1,863.3 887.6,863.5C878.1,863.7 853.1,864.2 841.4,864.6C829.7,865 821.2,865.5 817.2,865.7Z" fill="#92c5de"/>
<path d="M817.2,925.1C824.2,925.5 844.7,926.8 859,927.3C873.3,927.8 888.3,927.8 903,928.4C917.7,929 932.3,929.9 947,930.6C961.7,931.3 976.3,931.7 991,932.8C1005.7,933.9 1020.3,935.4 1035,937.2C1049.7,939 1066.2,941.6 1079,943.8C1091.8,946 1101,949.2 1112,950.4C1123,951.6 1133.9,949.1 1145,951C1156.1,952.9 1171.4,958.4 1178.5,962.1C1185.6,965.8 1187.4,969.5 1187.4,973.2C1187.4,977 1185.6,980.3 1178.5,984.4C1171.4,988.5 1161.6,994.1 1145,997.8C1128.4,1001.5 1097.3,1004.1 1079,1006.5C1060.7,1008.9 1042.3,1011.1 1035,1012L816.5,1011.5Z" fill="#fddbc7"/>
<path d="M817.2,943.8C824.2,943.6 844.7,942.7 859,942.7C873.3,942.7 888.3,943.4 903,943.8C917.7,944.2 932.3,944.5 947,944.9C961.7,945.3 976.3,945.1 991,946C1005.7,946.9 1020.3,948.2 1035,950.4C1049.7,952.6 1066.9,956.3 1079,959.2C1091.1,962.1 1101.4,965.2 1107.6,968C1113.8,970.8 1116.4,973.1 1116.4,975.7C1116.4,978.3 1113.8,980.6 1107.6,983.4C1101.4,986.1 1091.1,989.3 1079,992.2C1066.9,995.1 1049.7,998.4 1035,1001C1020.3,1003.6 1005.7,1005.8 991,1007.6C976.3,1009.4 954.3,1011.3 947,1012L816.5,1011.5Z" fill="#f4a582"/>
<path d="M817.2,969.1C824.2,968.1 844.7,964.4 859,963.2C873.3,961.9 888.3,961.8 903,961.8C917.7,961.9 932.3,962.4 947,963.6C961.7,964.8 978.7,966.9 991,969.1C1003.3,971.3 1017,974.2 1020.7,976.8C1024.4,979.4 1015,982.9 1013,984.5C1011,986.1 1012.3,985.6 1008.6,986.7C1004.9,987.8 1000.2,989.6 991,991.1C981.8,992.6 968.3,994.4 953.6,995.5C938.9,996.6 918.8,997.9 903,997.7C887.2,997.5 871.8,996 859,994.4C846.2,992.8 833,989.1 826,987.8C819,986.5 818.7,986.9 817.2,986.7Z" fill="#d6604d"/>
<path d="M1227.6,1011.2C1234.3,1010.3 1254.1,1006.7 1267.8,1005.6C1281.6,1004.5 1295.4,1004.3 1310.3,1004.5C1325.2,1004.7 1341.9,1005.6 1357.2,1006.7C1372.4,1007.9 1394.4,1010.5 1401.8,1011.2Z" fill="#d1e5f0"/>
<g mask="url(#md)">
<path d="M816.5,577C846.3,577.1 957.1,576.8 995.4,577.4C1033.7,578 1028.4,581.1 1046,580.7C1063.6,580.3 1084.5,576.4 1101,575.2C1117.5,574 1126.5,574.1 1145,573.5C1163.5,572.9 1185.9,571.5 1212,571.7C1238.1,571.9 1275.3,573.6 1301.3,574.6C1327.4,575.7 1349.7,578.9 1368.3,578C1386.9,577 1401.8,573.1 1413,569C1424.2,564.9 1429.8,557.7 1435.3,553.4C1440.9,549.1 1444.6,545 1446.5,543.4" fill="none" stroke="#000" stroke-width="1.25"/>
<path d="M817.2,597.6C827.8,597.5 859.4,596.8 881,596.8C902.6,596.8 928.7,597.3 947,597.6C965.3,598 976.3,599.2 991,599C1005.7,598.7 1020.3,596.9 1035,596.1C1049.7,595.3 1060.7,594.7 1079,593.9C1097.3,593.1 1121.7,591.6 1145,591.1C1168.3,590.6 1197.5,590.8 1218.7,590.9C1239.9,591 1254.8,591.4 1272.3,591.8C1289.8,592.2 1307.7,592.8 1323.7,593.2C1339.7,593.5 1353.4,594.2 1368.3,594C1383.2,593.9 1400,593.5 1413,592.5C1426,591.5 1438.3,589.7 1446.5,588C1454.7,586.3 1457.3,584.3 1462.1,582.4C1467,580.6 1473.3,577.8 1475.5,576.9" fill="none" stroke="#000" stroke-width="1.25"/>
<path d="M817.2,615.9C824.2,615.2 844.7,612.4 859,611.5C873.3,610.6 888.3,610.2 903,610.4C917.7,610.6 932.3,611.9 947,612.6C961.7,613.3 976.3,614.2 991,614.8C1005.7,615.3 1020.3,616.3 1035,615.9C1049.7,615.5 1060.7,613.9 1079,612.6C1097.3,611.3 1126.6,609.2 1145,608.1C1163.4,607 1171.1,606.1 1189.7,605.9C1208.3,605.7 1234.3,606.6 1256.7,607C1279,607.4 1305.1,607.7 1323.7,608.1C1342.3,608.5 1353.4,608.7 1368.3,609.2C1383.2,609.7 1395.1,610.6 1413,611C1430.9,611.5 1465.1,611.8 1475.5,611.9" fill="none" stroke="#000" stroke-width="1.25"/>
<path d="M817.2,701.7C824.2,701.9 845.4,702.2 859,702.8C872.6,703.3 884.7,704.3 898.6,705C912.5,705.7 927.2,706.7 942.6,707.2C958,707.8 975.6,708.1 991,708.3C1006.4,708.5 1020.3,708.5 1035,708.3C1049.7,708.1 1060.7,709.1 1079,707.2C1097.3,705.3 1126.6,699.6 1145,697C1163.4,694.4 1174.8,693.8 1189.7,691.9C1204.6,689.9 1223.2,687.8 1234.3,685.2C1245.5,682.6 1249.2,678.8 1256.7,676.2C1264.1,673.6 1267.8,671.6 1279,669.5C1290.2,667.5 1308.8,665.8 1323.7,664C1338.6,662.1 1353.4,660.4 1368.3,658.4C1383.2,656.3 1395.1,653.7 1413,651.7C1430.9,649.6 1465.1,647 1475.5,646.1" fill="none" stroke="#000" stroke-width="1.25"/>
<path d="M817.2,721.5C824.2,721.7 844.7,722.1 859,722.6C873.3,723.1 888.3,723.9 903,724.8C917.7,725.7 932.3,727 947,728.1C961.7,729.2 976.3,730.9 991,731.4C1005.7,731.9 1020.3,731.6 1035,731.4C1049.7,731.2 1060.7,731.7 1079,730.3C1097.3,728.9 1126.6,725.3 1145,723C1163.4,720.7 1174.8,718.3 1189.7,716.4C1204.6,714.6 1219.4,715.3 1234.3,712C1249.2,708.6 1267.8,700.4 1279,696.3C1290.2,692.2 1290.2,690 1301.3,687.4C1312.5,684.8 1331.1,682.6 1346,680.7C1360.9,678.8 1375.8,677.7 1390.7,676.2C1405.6,674.7 1421.2,673.4 1435.3,671.8C1449.5,670.1 1468.8,667.1 1475.5,666.2" fill="none" stroke="#000" stroke-width="1.25"/>
<path d="M817.2,744.6C824.2,744.8 844.7,745.2 859,745.7C873.3,746.2 888.3,747 903,747.9C917.7,748.8 932.3,750.5 947,751.2C961.7,751.9 976.3,752.3 991,752.3C1005.7,752.3 1020.3,751.4 1035,751.2C1049.7,751 1060.7,750.7 1079,751.2C1097.3,751.8 1126.6,753 1145,754.5C1163.4,756 1174.8,760 1189.7,760C1204.6,760 1219.4,757.6 1234.3,754.4C1249.2,751.2 1267.8,745.1 1279,741C1290.2,736.9 1290.2,734.7 1301.3,729.8C1312.5,725 1331.1,717.2 1346,712C1360.9,706.8 1375.8,701.9 1390.7,698.6C1405.6,695.2 1421.2,694.1 1435.3,691.9C1449.5,689.6 1468.8,686.3 1475.5,685.2" fill="none" stroke="#000" stroke-width="1.25"/>
<path d="M817.2,908.6C824.2,908.8 844.7,909.2 859,909.7C873.3,910.2 887.2,911.2 903,911.9C918.8,912.6 936,913.5 953.6,914.1C971.2,914.7 991.4,914.7 1008.6,915.2C1025.8,915.8 1041.6,916.5 1057,917.4C1072.4,918.3 1086.3,919.6 1101,920.7C1115.7,921.8 1130.2,922.3 1145,924C1159.8,925.7 1174.8,927.4 1189.7,930.8C1204.6,934.2 1219.4,939 1234.3,944.2C1249.2,949.4 1267.8,957.8 1279,962.1C1290.2,966.3 1296.3,967.5 1301.3,969.9C1306.4,972.3 1312.9,974.4 1309.2,976.6C1305.4,978.8 1291.5,980.5 1279,983.3C1266.5,986.1 1249.2,989.8 1234.3,993.3C1219.4,996.9 1202.7,1001.3 1189.7,1004.5C1176.6,1007.7 1162.8,1011.1 1156.2,1012.3C1149.6,1013.6 1151,1012.1 1150,1012" fill="none" stroke="#000" stroke-width="1.25"/>
<path d="M817.2,925.1C824.2,925.5 844.7,926.8 859,927.3C873.3,927.8 888.3,927.8 903,928.4C917.7,929 932.3,929.9 947,930.6C961.7,931.3 976.3,931.7 991,932.8C1005.7,933.9 1020.3,935.4 1035,937.2C1049.7,939 1066.2,941.6 1079,943.8C1091.8,946 1101,949.2 1112,950.4C1123,951.6 1133.9,949.1 1145,951C1156.1,952.9 1171.4,958.4 1178.5,962.1C1185.6,965.8 1187.4,969.5 1187.4,973.2C1187.4,977 1185.6,980.3 1178.5,984.4C1171.4,988.5 1161.6,994.1 1145,997.8C1128.4,1001.5 1097.3,1004.1 1079,1006.5C1060.7,1008.9 1042.3,1011.1 1035,1012" fill="none" stroke="#000" stroke-width="1.25"/>
<path d="M817.2,943.8C824.2,943.6 844.7,942.7 859,942.7C873.3,942.7 888.3,943.4 903,943.8C917.7,944.2 932.3,944.5 947,944.9C961.7,945.3 976.3,945.1 991,946C1005.7,946.9 1020.3,948.2 1035,950.4C1049.7,952.6 1066.9,956.3 1079,959.2C1091.1,962.1 1101.4,965.2 1107.6,968C1113.8,970.8 1116.4,973.1 1116.4,975.7C1116.4,978.3 1113.8,980.6 1107.6,983.4C1101.4,986.1 1091.1,989.3 1079,992.2C1066.9,995.1 1049.7,998.4 1035,1001C1020.3,1003.6 1005.7,1005.8 991,1007.6C976.3,1009.4 954.3,1011.3 947,1012" fill="none" stroke="#000" stroke-width="1.25"/>
<path d="M1475.5,973.7C1465.1,973.7 1430.9,973.5 1413,973.7C1395.1,973.9 1378.2,974.5 1368.3,975C1358.5,975.5 1355.3,975.4 1353.8,976.6C1352.3,977.8 1353.3,980.3 1359.4,982.2C1365.5,984 1378,985.5 1390.7,987.8C1403.3,990 1421.2,993 1435.3,995.6C1449.5,998.2 1468.8,1002.1 1475.5,1003.4" fill="none" stroke="#000" stroke-width="1.25"/>
<path d="M817.2,640.1C824.2,638.8 844.7,634.4 859,632.4C873.3,630.4 888.3,628.4 903,628C917.7,627.6 932.3,629.1 947,630.2C961.7,631.3 976.3,633.9 991,634.6C1005.7,635.3 1020.3,635.2 1035,634.6C1049.7,634 1060.7,632.9 1079,631.3C1097.3,629.7 1128.4,626.9 1145,624.9C1161.6,622.9 1163.6,620 1178.5,619.3C1193.4,618.5 1213.9,619.8 1234.3,620.4C1254.8,621 1284.6,621.7 1301.3,622.6C1318.1,623.6 1323.7,624.1 1334.8,626C1346,627.8 1362.2,631.9 1368.3,633.8C1374.5,635.7 1373.5,635.5 1371.7,637.1C1369.8,638.8 1365.2,641.4 1357.2,643.9C1349.2,646.3 1334.8,649.2 1323.7,651.7C1312.5,654.1 1301.3,656.9 1290.2,658.4C1279,659.9 1266.7,659.5 1256.7,660.6C1246.6,661.7 1237.3,663.2 1229.9,665.1C1222.4,666.9 1218.7,669.9 1212,671.8C1205.3,673.6 1200.8,674.9 1189.7,676.2C1178.5,677.6 1163.4,679.3 1145,680C1126.6,680.8 1095.1,680.7 1079,680.8C1062.9,680.9 1057.7,681.2 1048.2,680.8C1038.7,680.4 1030.6,679.3 1021.8,678.6C1013,677.9 1003.5,676.6 995.4,676.4C987.3,676.2 981.5,676.4 973.4,677.5C965.3,678.6 958.7,681.9 947,683C935.3,684.1 917.7,684.5 903,684.1C888.3,683.7 873.3,681.7 859,680.8C844.7,679.9 824.2,679 817.2,678.6" fill="none" stroke="#000" stroke-width="1.25"/>
<path d="M817.2,969.1C824.2,968.1 844.7,964.4 859,963.2C873.3,961.9 888.3,961.8 903,961.8C917.7,961.9 932.3,962.4 947,963.6C961.7,964.8 978.7,966.9 991,969.1C1003.3,971.3 1017,974.2 1020.7,976.8C1024.4,979.4 1015,982.9 1013,984.5C1011,986.1 1012.3,985.6 1008.6,986.7C1004.9,987.8 1000.2,989.6 991,991.1C981.8,992.6 968.3,994.4 953.6,995.5C938.9,996.6 918.8,997.9 903,997.7C887.2,997.5 871.8,996 859,994.4C846.2,992.8 833,989.1 826,987.8C819,986.5 818.7,986.9 817.2,986.7" fill="none" stroke="#000" stroke-width="1.25"/>
<path d="M1224.3,636C1226,635.1 1229.7,633.4 1234.3,632.7C1239,631.9 1246.6,631 1252.2,631.6C1257.8,632.1 1267.8,634.5 1267.8,636C1267.8,637.5 1257.8,639.6 1252.2,640.5C1246.6,641.4 1239,642 1234.3,641.6C1229.7,641.2 1226,639.2 1224.3,638.3C1222.6,637.3 1222.6,637 1224.3,636Z" fill="none" stroke="#000" stroke-width="1.25"/>
<path d="M817.2,769.9C824.2,769.7 844.7,768.4 859,768.8C873.3,769.2 888.3,771 903,772.1C917.7,773.2 932.3,774.5 947,775.4C961.7,776.3 976.3,777.4 991,777.6C1005.7,777.8 1020.3,776.5 1035,776.5C1049.7,776.5 1060.7,776.7 1079,777.6C1097.3,778.5 1128.4,779.4 1145,782C1161.6,784.6 1167.3,789.9 1178.5,793.5C1189.7,797 1202.7,801.1 1212,803.5C1221.3,805.9 1223.2,807.1 1234.3,808C1245.5,808.8 1264.1,808.4 1279,808.4C1293.9,808.4 1310.6,808.2 1323.7,808C1336.7,807.7 1347.9,807.4 1357.2,806.9C1366.5,806.3 1373.9,805.9 1379.5,804.6C1385.1,803.3 1386.9,800.7 1390.7,799C1394.4,797.4 1399.2,797.2 1401.8,794.6C1404.4,792 1405.4,787.5 1406.3,783.4C1407.2,779.3 1407,773.3 1407.4,770C1407.8,766.7 1406.5,767.1 1408.5,763.3C1410.6,759.6 1414.1,752.5 1419.7,747.7C1425.3,742.9 1432.7,737.6 1442,734.3C1451.3,730.9 1470,728.7 1475.5,727.6" fill="none" stroke="#000" stroke-width="1.25" stroke-dasharray="4.6 2.2"/>
<path d="M1475.5,801.3C1468.8,800.7 1445.8,798.5 1435.3,797.9C1424.9,797.4 1417.5,797.7 1413,797.9C1408.5,798.1 1408.9,796.2 1408.5,799C1408.2,801.8 1407.4,809.5 1410.8,814.7C1414.1,819.9 1421.6,825.8 1428.6,830.3C1435.7,834.8 1445.4,838.7 1453.2,841.5C1461,844.3 1471.8,846.1 1475.5,847" fill="none" stroke="#000" stroke-width="1.25" stroke-dasharray="4.6 2.2"/>
<path d="M817.2,891C824.2,891 844.7,890.6 859,891C873.3,891.4 888.3,892.5 903,893.2C917.7,893.9 928.7,894.5 947,895C965.3,895.4 991,896 1013,895.8C1035,895.7 1057,894.9 1079,894.3C1101,893.7 1126.6,892.2 1145,892C1163.4,891.8 1174.8,892 1189.7,892.8C1204.6,893.7 1221.3,895.1 1234.3,897.3C1247.4,899.5 1258.5,902.9 1267.8,906.2C1277.1,909.6 1282.7,913.7 1290.2,917.4C1297.6,921.1 1303.2,924.8 1312.5,928.6C1321.8,932.3 1333,936.6 1346,939.7C1359,942.9 1375.8,945.5 1390.7,947.5C1405.6,949.6 1421.2,950.9 1435.3,952C1449.5,953.1 1468.8,953.9 1475.5,954.2" fill="none" stroke="#000" stroke-width="1.25" stroke-dasharray="4.6 2.2"/>
<path d="M1227.6,1011.2C1234.3,1010.3 1254.1,1006.7 1267.8,1005.6C1281.6,1004.5 1295.4,1004.3 1310.3,1004.5C1325.2,1004.7 1341.9,1005.6 1357.2,1006.7C1372.4,1007.9 1394.4,1010.5 1401.8,1011.2" fill="none" stroke="#000" stroke-width="1.25" stroke-dasharray="4.6 2.2"/>
<path d="M1256.7,543.4C1262.2,544.3 1279,547.6 1290.2,548.9C1301.3,550.2 1312.5,551.2 1323.7,551.2C1334.8,551.2 1347.1,550.2 1357.2,548.9C1367.2,547.6 1379.5,544.3 1384,543.4" fill="none" stroke="#000" stroke-width="1.25" stroke-dasharray="4.6 2.2"/>
<path d="M817.2,796C824.2,796 846.5,795.2 859,796C871.5,796.8 877.3,799.6 892,800.8C906.7,802 926.8,802.1 947,803C967.2,803.9 994.7,804.8 1013,806.3C1031.3,807.8 1046,809 1057,811.8C1068,814.5 1073.5,818.4 1079,822.8C1084.5,827.2 1089.3,833.4 1090,838.2C1090.7,843 1088.9,847.7 1083.4,851.4C1077.9,855.1 1068.7,857.8 1057,860.2C1045.3,862.6 1027.7,864.4 1013,865.7C998.3,867 983.7,867.9 969,867.9C954.3,867.9 936.7,866.4 925,865.7C913.3,865 904.8,863.9 898.6,863.5C892.4,863.1 897.1,863.3 887.6,863.5C878.1,863.7 853.1,864.2 841.4,864.6C829.7,865 821.2,865.5 817.2,865.7" fill="none" stroke="#000" stroke-width="1.25" stroke-dasharray="4.6 2.2"/>
</g>
<use href="#coast" x="752.0"/>
<use href="#gbox" x="752.0"/>
<rect x="819.5" y="544.4" width="176.4" height="32.6" fill="#fff"/>
<text x="825.8" y="567.5" font-size="22.26" text-anchor="start" fill="#000" textLength="167.6" lengthAdjust="spacingAndGlyphs">d) La Lina years</text>
<text x="1243.2" y="598.3" font-size="22" text-anchor="middle" textLength="33.1" lengthAdjust="spacingAndGlyphs">0.1</text>
<text x="1021.8" y="685" font-size="22" text-anchor="middle" textLength="33.1" lengthAdjust="spacingAndGlyphs" transform="rotate(4 1021.8 677.5)">0.3</text>
<text x="914.5" y="710.9" font-size="22" text-anchor="middle" textLength="33.1" lengthAdjust="spacingAndGlyphs">0.2</text>
<text x="864.5" y="869.9" font-size="22" text-anchor="middle" textLength="50.5" lengthAdjust="spacingAndGlyphs">−0.2</text>
<text x="980" y="920" font-size="22" text-anchor="middle" textLength="33.1" lengthAdjust="spacingAndGlyphs">0.0</text>
<text x="980" y="997" font-size="22" text-anchor="middle" textLength="33.1" lengthAdjust="spacingAndGlyphs" transform="rotate(-4 980 989.5)">0.3</text>
</g>
<line x1="59.9" y1="543.5" x2="64.5" y2="543.5" stroke="#555" stroke-width="1"/>
<text x="55" y="551.3" font-size="22.26" text-anchor="end" fill="#000" textLength="42.4" lengthAdjust="spacingAndGlyphs">50N</text>
<line x1="59.9" y1="602" x2="64.5" y2="602" stroke="#555" stroke-width="1"/>
<text x="55" y="609.8" font-size="22.26" text-anchor="end" fill="#000" textLength="42.4" lengthAdjust="spacingAndGlyphs">40N</text>
<line x1="59.9" y1="660.5" x2="64.5" y2="660.5" stroke="#555" stroke-width="1"/>
<text x="55" y="668.3" font-size="22.26" text-anchor="end" fill="#000" textLength="42.4" lengthAdjust="spacingAndGlyphs">30N</text>
<line x1="59.9" y1="719" x2="64.5" y2="719" stroke="#555" stroke-width="1"/>
<text x="55" y="726.8" font-size="22.26" text-anchor="end" fill="#000" textLength="42.4" lengthAdjust="spacingAndGlyphs">20N</text>
<line x1="59.9" y1="777.5" x2="64.5" y2="777.5" stroke="#555" stroke-width="1"/>
<text x="55" y="785.3" font-size="22.26" text-anchor="end" fill="#000" textLength="42.4" lengthAdjust="spacingAndGlyphs">10N</text>
<line x1="59.9" y1="836" x2="64.5" y2="836" stroke="#555" stroke-width="1"/>
<text x="55" y="843.8" font-size="22.26" text-anchor="end" fill="#000" textLength="26.6" lengthAdjust="spacingAndGlyphs">Eq</text>
<line x1="59.9" y1="894.5" x2="64.5" y2="894.5" stroke="#555" stroke-width="1"/>
<text x="55" y="902.3" font-size="22.26" text-anchor="end" fill="#000" textLength="40.1" lengthAdjust="spacingAndGlyphs">10S</text>
<line x1="59.9" y1="953" x2="64.5" y2="953" stroke="#555" stroke-width="1"/>
<text x="55" y="960.8" font-size="22.26" text-anchor="end" fill="#000" textLength="40.1" lengthAdjust="spacingAndGlyphs">20S</text>
<line x1="59.9" y1="1011.5" x2="64.5" y2="1011.5" stroke="#555" stroke-width="1"/>
<text x="55" y="1019.3" font-size="22.26" text-anchor="end" fill="#000" textLength="40.1" lengthAdjust="spacingAndGlyphs">30S</text>
<line x1="64.5" y1="1011.5" x2="64.5" y2="1016.1" stroke="#555" stroke-width="1"/>
<text x="64.5" y="1035.7" font-size="22.26" text-anchor="middle" fill="#000" textLength="40" lengthAdjust="spacingAndGlyphs">30E</text>
<line x1="146.9" y1="1011.5" x2="146.9" y2="1016.1" stroke="#555" stroke-width="1"/>
<text x="146.9" y="1035.7" font-size="22.26" text-anchor="middle" fill="#000" textLength="40" lengthAdjust="spacingAndGlyphs">40E</text>
<line x1="229.2" y1="1011.5" x2="229.2" y2="1016.1" stroke="#555" stroke-width="1"/>
<text x="229.2" y="1035.7" font-size="22.26" text-anchor="middle" fill="#000" textLength="40" lengthAdjust="spacingAndGlyphs">50E</text>
<line x1="311.6" y1="1011.5" x2="311.6" y2="1016.1" stroke="#555" stroke-width="1"/>
<text x="311.6" y="1035.7" font-size="22.26" text-anchor="middle" fill="#000" textLength="40" lengthAdjust="spacingAndGlyphs">60E</text>
<line x1="394" y1="1011.5" x2="394" y2="1016.1" stroke="#555" stroke-width="1"/>
<text x="394" y="1035.7" font-size="22.26" text-anchor="middle" fill="#000" textLength="40" lengthAdjust="spacingAndGlyphs">70E</text>
<line x1="476.4" y1="1011.5" x2="476.4" y2="1016.1" stroke="#555" stroke-width="1"/>
<text x="476.4" y="1035.7" font-size="22.26" text-anchor="middle" fill="#000" textLength="40" lengthAdjust="spacingAndGlyphs">80E</text>
<line x1="558.8" y1="1011.5" x2="558.8" y2="1016.1" stroke="#555" stroke-width="1"/>
<text x="558.8" y="1035.7" font-size="22.26" text-anchor="middle" fill="#000" textLength="40" lengthAdjust="spacingAndGlyphs">90E</text>
<line x1="641.1" y1="1011.5" x2="641.1" y2="1016.1" stroke="#555" stroke-width="1"/>
<text x="641.1" y="1035.7" font-size="22.26" text-anchor="middle" fill="#000" textLength="53.4" lengthAdjust="spacingAndGlyphs">100E</text>
<line x1="723.5" y1="1011.5" x2="723.5" y2="1016.1" stroke="#555" stroke-width="1"/>
<text x="723.5" y="1035.7" font-size="22.26" text-anchor="middle" fill="#000" textLength="53.4" lengthAdjust="spacingAndGlyphs">110E</text>
<rect x="64.5" y="543.5" width="659.0" height="468.0" fill="none" stroke="#333" stroke-width="1.1"/>
<line x1="811.9" y1="543.5" x2="816.5" y2="543.5" stroke="#555" stroke-width="1"/>
<text x="807" y="551.3" font-size="22.26" text-anchor="end" fill="#000" textLength="42.4" lengthAdjust="spacingAndGlyphs">50N</text>
<line x1="811.9" y1="602" x2="816.5" y2="602" stroke="#555" stroke-width="1"/>
<text x="807" y="609.8" font-size="22.26" text-anchor="end" fill="#000" textLength="42.4" lengthAdjust="spacingAndGlyphs">40N</text>
<line x1="811.9" y1="660.5" x2="816.5" y2="660.5" stroke="#555" stroke-width="1"/>
<text x="807" y="668.3" font-size="22.26" text-anchor="end" fill="#000" textLength="42.4" lengthAdjust="spacingAndGlyphs">30N</text>
<line x1="811.9" y1="719" x2="816.5" y2="719" stroke="#555" stroke-width="1"/>
<text x="807" y="726.8" font-size="22.26" text-anchor="end" fill="#000" textLength="42.4" lengthAdjust="spacingAndGlyphs">20N</text>
<line x1="811.9" y1="777.5" x2="816.5" y2="777.5" stroke="#555" stroke-width="1"/>
<text x="807" y="785.3" font-size="22.26" text-anchor="end" fill="#000" textLength="42.4" lengthAdjust="spacingAndGlyphs">10N</text>
<line x1="811.9" y1="836" x2="816.5" y2="836" stroke="#555" stroke-width="1"/>
<text x="807" y="843.8" font-size="22.26" text-anchor="end" fill="#000" textLength="26.6" lengthAdjust="spacingAndGlyphs">Eq</text>
<line x1="811.9" y1="894.5" x2="816.5" y2="894.5" stroke="#555" stroke-width="1"/>
<text x="807" y="902.3" font-size="22.26" text-anchor="end" fill="#000" textLength="40.1" lengthAdjust="spacingAndGlyphs">10S</text>
<line x1="811.9" y1="953" x2="816.5" y2="953" stroke="#555" stroke-width="1"/>
<text x="807" y="960.8" font-size="22.26" text-anchor="end" fill="#000" textLength="40.1" lengthAdjust="spacingAndGlyphs">20S</text>
<line x1="811.9" y1="1011.5" x2="816.5" y2="1011.5" stroke="#555" stroke-width="1"/>
<text x="807" y="1019.3" font-size="22.26" text-anchor="end" fill="#000" textLength="40.1" lengthAdjust="spacingAndGlyphs">30S</text>
<line x1="816.5" y1="1011.5" x2="816.5" y2="1016.1" stroke="#555" stroke-width="1"/>
<text x="816.5" y="1035.7" font-size="22.26" text-anchor="middle" fill="#000" textLength="40" lengthAdjust="spacingAndGlyphs">30E</text>
<line x1="898.9" y1="1011.5" x2="898.9" y2="1016.1" stroke="#555" stroke-width="1"/>
<text x="898.9" y="1035.7" font-size="22.26" text-anchor="middle" fill="#000" textLength="40" lengthAdjust="spacingAndGlyphs">40E</text>
<line x1="981.2" y1="1011.5" x2="981.2" y2="1016.1" stroke="#555" stroke-width="1"/>
<text x="981.2" y="1035.7" font-size="22.26" text-anchor="middle" fill="#000" textLength="40" lengthAdjust="spacingAndGlyphs">50E</text>
<line x1="1063.6" y1="1011.5" x2="1063.6" y2="1016.1" stroke="#555" stroke-width="1"/>
<text x="1063.6" y="1035.7" font-size="22.26" text-anchor="middle" fill="#000" textLength="40" lengthAdjust="spacingAndGlyphs">60E</text>
<line x1="1146" y1="1011.5" x2="1146" y2="1016.1" stroke="#555" stroke-width="1"/>
<text x="1146" y="1035.7" font-size="22.26" text-anchor="middle" fill="#000" textLength="40" lengthAdjust="spacingAndGlyphs">70E</text>
<line x1="1228.4" y1="1011.5" x2="1228.4" y2="1016.1" stroke="#555" stroke-width="1"/>
<text x="1228.4" y="1035.7" font-size="22.26" text-anchor="middle" fill="#000" textLength="40" lengthAdjust="spacingAndGlyphs">80E</text>
<line x1="1310.8" y1="1011.5" x2="1310.8" y2="1016.1" stroke="#555" stroke-width="1"/>
<text x="1310.8" y="1035.7" font-size="22.26" text-anchor="middle" fill="#000" textLength="40" lengthAdjust="spacingAndGlyphs">90E</text>
<line x1="1393.1" y1="1011.5" x2="1393.1" y2="1016.1" stroke="#555" stroke-width="1"/>
<text x="1393.1" y="1035.7" font-size="22.26" text-anchor="middle" fill="#000" textLength="53.4" lengthAdjust="spacingAndGlyphs">100E</text>
<line x1="1475.5" y1="1011.5" x2="1475.5" y2="1016.1" stroke="#555" stroke-width="1"/>
<text x="1475.5" y="1035.7" font-size="22.26" text-anchor="middle" fill="#000" textLength="53.4" lengthAdjust="spacingAndGlyphs">110E</text>
<rect x="816.5" y="543.5" width="659.0" height="468.0" fill="none" stroke="#333" stroke-width="1.1"/>
<polygon points="148,1057 206.2,1049.5 206.2,1064.4" fill="#053061"/>
<polygon points="1397.8,1057 1338.0,1049.5 1338.0,1064.4" fill="#67001f"/>
<rect x="206.2" y="1049.5" width="94.6" height="14.9" fill="#053061"/>
<rect x="300.5" y="1049.5" width="94.6" height="14.9" fill="#2166ac"/>
<rect x="394.8" y="1049.5" width="94.6" height="14.9" fill="#4393c3"/>
<rect x="489.1" y="1049.5" width="94.6" height="14.9" fill="#92c5de"/>
<rect x="583.5" y="1049.5" width="94.6" height="14.9" fill="#d1e5f0"/>
<rect x="677.8" y="1049.5" width="94.6" height="14.9" fill="#f7f7f7"/>
<rect x="772.1" y="1049.5" width="94.6" height="14.9" fill="#f7f7f7"/>
<rect x="866.4" y="1049.5" width="94.6" height="14.9" fill="#fddbc7"/>
<rect x="960.7" y="1049.5" width="94.6" height="14.9" fill="#f4a582"/>
<rect x="1055" y="1049.5" width="94.6" height="14.9" fill="#d6604d"/>
<rect x="1149.4" y="1049.5" width="94.6" height="14.9" fill="#b2182b"/>
<rect x="1243.7" y="1049.5" width="94.6" height="14.9" fill="#67001f"/>
<line x1="206.2" y1="1049.5" x2="206.2" y2="1068.9" stroke="#555" stroke-width="0.9"/>
<text x="206.2" y="1088.8" font-size="21.73" text-anchor="middle" fill="#000" textLength="49.8" lengthAdjust="spacingAndGlyphs">−0.6</text>
<line x1="300.5" y1="1049.5" x2="300.5" y2="1068.9" stroke="#555" stroke-width="0.9"/>
<text x="300.5" y="1088.8" font-size="21.73" text-anchor="middle" fill="#000" textLength="49.8" lengthAdjust="spacingAndGlyphs">−0.5</text>
<line x1="394.8" y1="1049.5" x2="394.8" y2="1068.9" stroke="#555" stroke-width="0.9"/>
<text x="394.8" y="1088.8" font-size="21.73" text-anchor="middle" fill="#000" textLength="49.8" lengthAdjust="spacingAndGlyphs">−0.4</text>
<line x1="489.1" y1="1049.5" x2="489.1" y2="1068.9" stroke="#555" stroke-width="0.9"/>
<text x="489.1" y="1088.8" font-size="21.73" text-anchor="middle" fill="#000" textLength="49.8" lengthAdjust="spacingAndGlyphs">−0.3</text>
<line x1="583.5" y1="1049.5" x2="583.5" y2="1068.9" stroke="#555" stroke-width="0.9"/>
<text x="583.5" y="1088.8" font-size="21.73" text-anchor="middle" fill="#000" textLength="49.8" lengthAdjust="spacingAndGlyphs">−0.2</text>
<line x1="677.8" y1="1049.5" x2="677.8" y2="1068.9" stroke="#555" stroke-width="0.9"/>
<text x="677.8" y="1088.8" font-size="21.73" text-anchor="middle" fill="#000" textLength="49.8" lengthAdjust="spacingAndGlyphs">−0.1</text>
<line x1="772.1" y1="1049.5" x2="772.1" y2="1068.9" stroke="#555" stroke-width="0.9"/>
<text x="772.1" y="1088.8" font-size="21.73" text-anchor="middle" fill="#000" textLength="32.6" lengthAdjust="spacingAndGlyphs">0.0</text>
<line x1="866.4" y1="1049.5" x2="866.4" y2="1068.9" stroke="#555" stroke-width="0.9"/>
<text x="866.4" y="1088.8" font-size="21.73" text-anchor="middle" fill="#000" textLength="32.6" lengthAdjust="spacingAndGlyphs">0.1</text>
<line x1="960.7" y1="1049.5" x2="960.7" y2="1068.9" stroke="#555" stroke-width="0.9"/>
<text x="960.7" y="1088.8" font-size="21.73" text-anchor="middle" fill="#000" textLength="32.6" lengthAdjust="spacingAndGlyphs">0.2</text>
<line x1="1055" y1="1049.5" x2="1055" y2="1068.9" stroke="#555" stroke-width="0.9"/>
<text x="1055" y="1088.8" font-size="21.73" text-anchor="middle" fill="#000" textLength="32.6" lengthAdjust="spacingAndGlyphs">0.3</text>
<line x1="1149.4" y1="1049.5" x2="1149.4" y2="1068.9" stroke="#555" stroke-width="0.9"/>
<text x="1149.4" y="1088.8" font-size="21.73" text-anchor="middle" fill="#000" textLength="32.6" lengthAdjust="spacingAndGlyphs">0.4</text>
<line x1="1243.7" y1="1049.5" x2="1243.7" y2="1068.9" stroke="#555" stroke-width="0.9"/>
<text x="1243.7" y="1088.8" font-size="21.73" text-anchor="middle" fill="#000" textLength="32.6" lengthAdjust="spacingAndGlyphs">0.5</text>
<line x1="1338" y1="1049.5" x2="1338" y2="1068.9" stroke="#555" stroke-width="0.9"/>
<text x="1338" y="1088.8" font-size="21.73" text-anchor="middle" fill="#000" textLength="32.6" lengthAdjust="spacingAndGlyphs">0.6</text>
<path d="M148,1057 L206.2,1049.5 L1338.0,1049.5 L1397.8,1057 L1338.0,1064.4 L206.2,1064.4 Z" fill="none" stroke="#222" stroke-width="1"/>
<text x="772.5" y="1113.6" font-size="21.62" text-anchor="middle" fill="#000" textLength="207.4" lengthAdjust="spacingAndGlyphs">Temperature (degK)</text>
<rect x="392" y="1110" width="1" height="1" fill="#8fb0d8"/><rect x="395" y="1110" width="1" height="1" fill="#c86a82"/>
</svg></body></html>
